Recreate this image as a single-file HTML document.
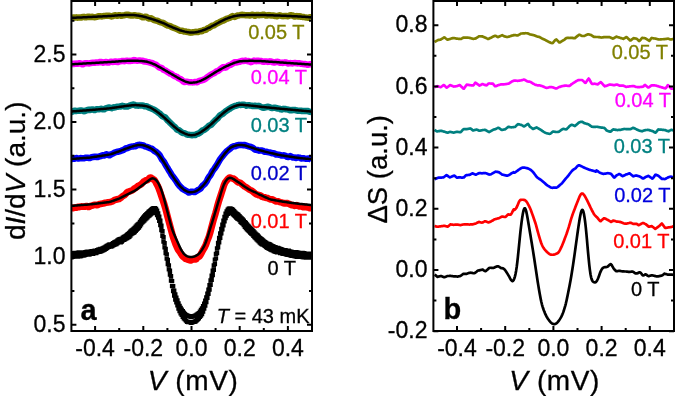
<!DOCTYPE html>
<html><head><meta charset="utf-8"><style>
html,body{margin:0;padding:0;background:#fff;}
body{width:675px;height:396px;overflow:hidden;font-family:"Liberation Sans",sans-serif;}
svg{display:block;will-change:transform;}
</style></head><body>
<svg width="675" height="396" viewBox="0 0 675 396">
<rect width="675" height="396" fill="#fff"/>
<defs><clipPath id="ca"><rect x="71.4" y="1.0" width="240.6" height="330.0"/></clipPath>
<clipPath id="cb"><rect x="433.4" y="1.0" width="240.6" height="330.0"/></clipPath></defs>
<g clip-path="url(#ca)">
<path d="M71.00,18.49 L72.07,17.83 L73.14,17.42 L74.21,17.50 L75.28,17.47 L76.35,17.37 L77.42,17.65 L78.49,17.62 L79.56,17.44 L80.63,17.62 L81.70,17.48 L82.77,16.93 L83.84,16.87 L84.91,17.25 L85.98,17.30 L87.05,16.97 L88.12,16.77 L89.19,16.78 L90.26,16.96 L91.33,16.95 L92.40,16.81 L93.47,17.11 L94.54,17.25 L95.61,17.11 L96.68,16.89 L97.75,16.53 L98.82,16.30 L99.89,16.19 L100.96,16.32 L102.03,16.41 L103.10,16.17 L104.17,15.99 L105.24,15.88 L106.31,15.77 L107.38,15.83 L108.45,15.83 L109.52,15.74 L110.59,16.08 L111.66,16.46 L112.73,16.19 L113.80,15.62 L114.87,15.24 L115.94,15.43 L117.01,15.81 L118.08,15.51 L119.15,15.14 L120.22,15.47 L121.29,15.80 L122.36,15.56 L123.43,15.36 L124.50,15.23 L125.57,14.88 L126.64,14.66 L127.71,14.76 L128.78,15.00 L129.85,15.27 L130.92,15.46 L131.99,15.45 L133.06,15.39 L134.13,15.29 L135.20,15.28 L136.27,15.63 L137.34,15.75 L138.41,15.71 L139.48,15.92 L140.55,16.24 L141.62,16.77 L142.69,17.37 L143.76,17.35 L144.83,16.72 L145.90,16.63 L146.97,17.28 L148.04,18.01 L149.11,18.54 L150.18,18.48 L151.25,18.32 L152.32,18.95 L153.39,19.74 L154.46,20.14 L155.53,20.44 L156.60,20.63 L157.67,20.96 L158.74,21.50 L159.81,21.99 L160.88,22.36 L161.95,22.61 L163.02,22.94 L164.09,23.50 L165.16,24.17 L166.23,24.92 L167.30,25.46 L168.37,25.64 L169.44,25.83 L170.51,26.32 L171.58,27.00 L172.65,27.44 L173.72,27.78 L174.79,28.17 L175.86,28.65 L176.93,29.18 L178.00,29.68 L179.07,30.26 L180.14,30.66 L181.21,30.70 L182.28,30.74 L183.35,31.23 L184.42,31.61 L185.49,31.56 L186.56,31.77 L187.63,31.95 L188.70,32.01 L189.77,32.48 L190.84,32.68 L191.91,32.44 L192.98,32.27 L194.05,32.09 L195.12,31.88 L196.19,31.82 L197.26,32.04 L198.33,31.92 L199.40,31.34 L200.47,31.06 L201.54,31.28 L202.61,30.87 L203.68,29.97 L204.75,29.95 L205.82,29.86 L206.89,28.88 L207.96,28.07 L209.03,27.78 L210.10,27.19 L211.17,26.30 L212.24,25.74 L213.31,25.60 L214.38,25.14 L215.45,24.37 L216.52,23.68 L217.59,23.07 L218.66,22.70 L219.73,22.15 L220.80,21.43 L221.87,20.99 L222.94,20.70 L224.01,20.24 L225.08,19.60 L226.15,19.00 L227.22,18.59 L228.29,18.27 L229.36,17.91 L230.43,17.49 L231.50,16.66 L232.57,16.11 L233.64,16.65 L234.71,16.94 L235.78,16.33 L236.85,15.76 L237.92,15.53 L238.99,15.41 L240.06,15.19 L241.13,14.90 L242.20,14.80 L243.27,14.89 L244.34,15.06 L245.41,15.16 L246.48,15.18 L247.55,15.23 L248.62,15.32 L249.69,15.51 L250.76,15.37 L251.83,14.67 L252.90,14.66 L253.97,15.47 L255.04,15.73 L256.11,15.22 L257.18,14.88 L258.25,15.05 L259.32,15.21 L260.39,15.13 L261.46,15.06 L262.53,14.82 L263.60,14.68 L264.67,15.04 L265.74,15.46 L266.81,15.55 L267.88,15.24 L268.95,15.11 L270.02,15.35 L271.09,15.47 L272.16,15.43 L273.23,15.54 L274.30,15.76 L275.37,15.96 L276.44,16.20 L277.51,16.17 L278.58,15.66 L279.65,15.32 L280.72,15.63 L281.79,15.99 L282.86,16.15 L283.93,16.12 L285.00,15.97 L286.07,15.97 L287.14,16.15 L288.21,16.25 L289.28,15.68 L290.35,15.17 L291.42,15.30 L292.49,15.54 L293.56,16.05 L294.63,16.60 L295.70,16.30 L296.77,16.09 L297.84,16.44 L298.91,16.28 L299.98,16.21 L301.05,16.74 L302.12,16.89 L303.19,16.90 L304.26,17.16 L305.33,17.35 L306.40,17.51 L307.47,17.64 L308.54,17.65 L309.61,17.30 L310.68,17.32 L311.75,18.22" stroke="#808000" stroke-width="6.5" fill="none" stroke-linejoin="round"/>
<path d="M71.00,17.90 L72.00,17.85 L73.00,17.81 L74.00,17.76 L75.00,17.71 L76.00,17.66 L77.00,17.62 L78.00,17.57 L79.00,17.52 L80.00,17.47 L81.00,17.43 L82.00,17.38 L83.00,17.33 L84.00,17.28 L85.00,17.24 L86.00,17.19 L87.00,17.14 L88.00,17.09 L89.00,17.05 L90.00,17.00 L91.00,16.95 L92.00,16.90 L93.00,16.85 L94.00,16.80 L95.00,16.75 L96.00,16.70 L97.00,16.65 L98.00,16.60 L99.00,16.55 L100.00,16.50 L101.00,16.45 L102.00,16.40 L103.00,16.35 L104.00,16.30 L105.00,16.25 L106.00,16.20 L107.00,16.15 L108.00,16.10 L109.00,16.05 L110.00,15.98 L111.00,15.92 L112.00,15.84 L113.00,15.76 L114.00,15.68 L115.00,15.60 L116.00,15.52 L117.00,15.44 L118.00,15.36 L119.00,15.29 L120.00,15.23 L121.00,15.19 L122.00,15.16 L123.00,15.14 L124.00,15.12 L125.00,15.10 L126.00,15.08 L127.00,15.06 L128.00,15.04 L129.00,15.03 L130.00,15.02 L131.00,15.03 L132.00,15.04 L133.00,15.06 L134.00,15.10 L135.00,15.17 L136.00,15.28 L137.00,15.42 L138.00,15.58 L139.00,15.75 L140.00,15.93 L141.00,16.13 L142.00,16.34 L143.00,16.56 L144.00,16.79 L145.00,17.04 L146.00,17.31 L147.00,17.60 L148.00,17.90 L149.00,18.20 L150.00,18.50 L151.00,18.80 L152.00,19.10 L153.00,19.40 L154.00,19.71 L155.00,20.04 L156.00,20.39 L157.00,20.76 L158.00,21.14 L159.00,21.52 L160.00,21.90 L161.00,22.28 L162.00,22.66 L163.00,23.04 L164.00,23.44 L165.00,23.86 L166.00,24.32 L167.00,24.80 L168.00,25.30 L169.00,25.79 L170.00,26.26 L171.00,26.71 L172.00,27.14 L173.00,27.56 L174.00,27.97 L175.00,28.38 L176.00,28.77 L177.00,29.16 L178.00,29.54 L179.00,29.90 L180.00,30.25 L181.00,30.56 L182.00,30.86 L183.00,31.14 L184.00,31.40 L185.00,31.65 L186.00,31.86 L187.00,32.06 L188.00,32.23 L189.00,32.38 L190.00,32.49 L191.00,32.52 L192.00,32.51 L193.00,32.47 L194.00,32.41 L195.00,32.31 L196.00,32.15 L197.00,31.95 L198.00,31.74 L199.00,31.50 L200.00,31.24 L201.00,30.94 L202.00,30.62 L203.00,30.28 L204.00,29.92 L205.00,29.54 L206.00,29.12 L207.00,28.68 L208.00,28.22 L209.00,27.75 L210.00,27.26 L211.00,26.75 L212.00,26.22 L213.00,25.68 L214.00,25.14 L215.00,24.60 L216.00,24.06 L217.00,23.52 L218.00,22.98 L219.00,22.44 L220.00,21.91 L221.00,21.38 L222.00,20.86 L223.00,20.34 L224.00,19.84 L225.00,19.37 L226.00,18.94 L227.00,18.54 L228.00,18.16 L229.00,17.80 L230.00,17.45 L231.00,17.14 L232.00,16.84 L233.00,16.56 L234.00,16.30 L235.00,16.07 L236.00,15.88 L237.00,15.72 L238.00,15.58 L239.00,15.46 L240.00,15.36 L241.00,15.29 L242.00,15.24 L243.00,15.21 L244.00,15.18 L245.00,15.15 L246.00,15.12 L247.00,15.09 L248.00,15.06 L249.00,15.03 L250.00,15.01 L251.00,14.99 L252.00,14.98 L253.00,14.97 L254.00,14.96 L255.00,14.95 L256.00,14.94 L257.00,14.93 L258.00,14.92 L259.00,14.92 L260.00,14.92 L261.00,14.94 L262.00,14.97 L263.00,15.01 L264.00,15.04 L265.00,15.08 L266.00,15.11 L267.00,15.15 L268.00,15.18 L269.00,15.22 L270.00,15.25 L271.00,15.29 L272.00,15.32 L273.00,15.36 L274.00,15.39 L275.00,15.43 L276.00,15.46 L277.00,15.50 L278.00,15.53 L279.00,15.57 L280.00,15.61 L281.00,15.65 L282.00,15.69 L283.00,15.74 L284.00,15.78 L285.00,15.83 L286.00,15.87 L287.00,15.92 L288.00,15.96 L289.00,16.00 L290.00,16.05 L291.00,16.10 L292.00,16.14 L293.00,16.18 L294.00,16.23 L295.00,16.28 L296.00,16.32 L297.00,16.37 L298.00,16.41 L299.00,16.46 L300.00,16.52 L301.00,16.58 L302.00,16.65 L303.00,16.73 L304.00,16.80 L305.00,16.87 L306.00,16.95 L307.00,17.02 L308.00,17.10 L309.00,17.18 L310.00,17.25 L311.00,17.32 L312.00,17.40" stroke="#000" stroke-width="2.5" fill="none" stroke-linejoin="round"/>
<path d="M71.00,64.12 L72.07,63.87 L73.14,63.81 L74.21,64.02 L75.28,63.67 L76.35,63.58 L77.42,63.78 L78.49,63.45 L79.56,63.22 L80.63,63.42 L81.70,64.02 L82.77,64.33 L83.84,63.73 L84.91,63.27 L85.98,63.35 L87.05,63.28 L88.12,63.38 L89.19,63.46 L90.26,63.14 L91.33,62.90 L92.40,62.79 L93.47,62.86 L94.54,62.84 L95.61,62.58 L96.68,62.54 L97.75,62.54 L98.82,62.30 L99.89,62.00 L100.96,61.97 L102.03,62.20 L103.10,62.63 L104.17,62.59 L105.24,61.94 L106.31,61.97 L107.38,62.46 L108.45,62.59 L109.52,62.23 L110.59,61.79 L111.66,61.84 L112.73,61.91 L113.80,61.82 L114.87,61.55 L115.94,61.39 L117.01,61.91 L118.08,62.00 L119.15,61.52 L120.22,61.38 L121.29,61.16 L122.36,60.88 L123.43,61.07 L124.50,61.18 L125.57,60.88 L126.64,60.69 L127.71,60.81 L128.78,61.07 L129.85,61.08 L130.92,60.79 L131.99,60.77 L133.06,60.54 L134.13,60.11 L135.20,60.27 L136.27,60.60 L137.34,60.78 L138.41,60.64 L139.48,60.40 L140.55,60.63 L141.62,60.69 L142.69,60.72 L143.76,61.28 L144.83,61.56 L145.90,61.61 L146.97,61.91 L148.04,62.12 L149.11,62.21 L150.18,62.66 L151.25,63.03 L152.32,63.01 L153.39,63.67 L154.46,64.33 L155.53,64.45 L156.60,65.16 L157.67,66.16 L158.74,67.08 L159.81,67.69 L160.88,67.76 L161.95,68.24 L163.02,69.45 L164.09,70.16 L165.16,70.40 L166.23,71.03 L167.30,71.81 L168.37,72.46 L169.44,73.19 L170.51,73.67 L171.58,73.97 L172.65,74.84 L173.72,75.58 L174.79,76.13 L175.86,76.57 L176.93,76.90 L178.00,77.89 L179.07,78.56 L180.14,78.84 L181.21,79.52 L182.28,80.47 L183.35,81.58 L184.42,82.06 L185.49,81.83 L186.56,81.67 L187.63,81.87 L188.70,82.18 L189.77,82.29 L190.84,82.28 L191.91,82.35 L192.98,82.39 L194.05,82.24 L195.12,81.97 L196.19,82.14 L197.26,82.23 L198.33,81.36 L199.40,80.79 L200.47,80.75 L201.54,80.38 L202.61,80.03 L203.68,79.77 L204.75,79.33 L205.82,78.43 L206.89,77.54 L207.96,76.85 L209.03,75.92 L210.10,75.26 L211.17,74.62 L212.24,73.94 L213.31,73.51 L214.38,73.01 L215.45,72.23 L216.52,71.41 L217.59,71.05 L218.66,70.62 L219.73,69.67 L220.80,68.76 L221.87,68.11 L222.94,67.27 L224.01,67.11 L225.08,67.65 L226.15,67.35 L227.22,66.45 L228.29,65.61 L229.36,65.14 L230.43,64.82 L231.50,64.27 L232.57,63.63 L233.64,62.81 L234.71,62.25 L235.78,62.35 L236.85,62.44 L237.92,62.12 L238.99,61.84 L240.06,61.69 L241.13,61.13 L242.20,60.84 L243.27,61.09 L244.34,60.85 L245.41,60.59 L246.48,60.91 L247.55,61.16 L248.62,61.10 L249.69,61.57 L250.76,62.14 L251.83,61.84 L252.90,61.12 L253.97,60.59 L255.04,60.83 L256.11,61.14 L257.18,60.83 L258.25,60.73 L259.32,60.94 L260.39,60.93 L261.46,61.06 L262.53,61.60 L263.60,61.82 L264.67,61.53 L265.74,61.39 L266.81,61.67 L267.88,61.94 L268.95,61.71 L270.02,61.34 L271.09,61.53 L272.16,61.99 L273.23,62.28 L274.30,62.46 L275.37,62.26 L276.44,61.85 L277.51,61.71 L278.58,62.12 L279.65,62.73 L280.72,62.82 L281.79,62.84 L282.86,62.92 L283.93,62.57 L285.00,62.33 L286.07,62.53 L287.14,63.01 L288.21,63.49 L289.28,63.35 L290.35,63.04 L291.42,63.33 L292.49,63.42 L293.56,63.14 L294.63,62.99 L295.70,63.02 L296.77,63.37 L297.84,63.42 L298.91,63.21 L299.98,63.45 L301.05,63.76 L302.12,63.86 L303.19,64.09 L304.26,64.16 L305.33,63.96 L306.40,64.32 L307.47,64.86 L308.54,64.58 L309.61,64.23 L310.68,64.23 L311.75,64.04" stroke="#ff00ff" stroke-width="6.5" fill="none" stroke-linejoin="round"/>
<path d="M71.00,64.30 L72.00,64.24 L73.00,64.18 L74.00,64.13 L75.00,64.07 L76.00,64.01 L77.00,63.95 L78.00,63.89 L79.00,63.84 L80.00,63.78 L81.00,63.72 L82.00,63.66 L83.00,63.61 L84.00,63.55 L85.00,63.49 L86.00,63.43 L87.00,63.37 L88.00,63.32 L89.00,63.26 L90.00,63.20 L91.00,63.14 L92.00,63.08 L93.00,63.02 L94.00,62.96 L95.00,62.90 L96.00,62.84 L97.00,62.78 L98.00,62.72 L99.00,62.66 L100.00,62.60 L101.00,62.54 L102.00,62.48 L103.00,62.42 L104.00,62.36 L105.00,62.30 L106.00,62.24 L107.00,62.18 L108.00,62.12 L109.00,62.06 L110.00,61.99 L111.00,61.92 L112.00,61.85 L113.00,61.78 L114.00,61.71 L115.00,61.63 L116.00,61.56 L117.00,61.49 L118.00,61.41 L119.00,61.34 L120.00,61.27 L121.00,61.19 L122.00,61.12 L123.00,61.05 L124.00,60.98 L125.00,60.92 L126.00,60.88 L127.00,60.84 L128.00,60.81 L129.00,60.78 L130.00,60.75 L131.00,60.72 L132.00,60.69 L133.00,60.66 L134.00,60.65 L135.00,60.65 L136.00,60.69 L137.00,60.74 L138.00,60.81 L139.00,60.88 L140.00,60.95 L141.00,61.02 L142.00,61.09 L143.00,61.17 L144.00,61.26 L145.00,61.40 L146.00,61.59 L147.00,61.83 L148.00,62.08 L149.00,62.36 L150.00,62.67 L151.00,63.02 L152.00,63.40 L153.00,63.81 L154.00,64.23 L155.00,64.68 L156.00,65.19 L157.00,65.73 L158.00,66.28 L159.00,66.84 L160.00,67.40 L161.00,67.96 L162.00,68.52 L163.00,69.08 L164.00,69.65 L165.00,70.22 L166.00,70.81 L167.00,71.40 L168.00,72.00 L169.00,72.60 L170.00,73.19 L171.00,73.78 L172.00,74.36 L173.00,74.94 L174.00,75.52 L175.00,76.10 L176.00,76.68 L177.00,77.26 L178.00,77.84 L179.00,78.41 L180.00,78.96 L181.00,79.49 L182.00,80.00 L183.00,80.49 L184.00,80.96 L185.00,81.38 L186.00,81.72 L187.00,82.01 L188.00,82.27 L189.00,82.49 L190.00,82.64 L191.00,82.69 L192.00,82.67 L193.00,82.61 L194.00,82.52 L195.00,82.39 L196.00,82.18 L197.00,81.93 L198.00,81.65 L199.00,81.35 L200.00,81.00 L201.00,80.59 L202.00,80.13 L203.00,79.66 L204.00,79.16 L205.00,78.64 L206.00,78.08 L207.00,77.50 L208.00,76.90 L209.00,76.29 L210.00,75.67 L211.00,75.03 L212.00,74.38 L213.00,73.72 L214.00,73.08 L215.00,72.45 L216.00,71.86 L217.00,71.28 L218.00,70.72 L219.00,70.16 L220.00,69.61 L221.00,69.06 L222.00,68.52 L223.00,67.98 L224.00,67.45 L225.00,66.94 L226.00,66.45 L227.00,65.98 L228.00,65.52 L229.00,65.07 L230.00,64.63 L231.00,64.21 L232.00,63.80 L233.00,63.40 L234.00,63.02 L235.00,62.66 L236.00,62.34 L237.00,62.04 L238.00,61.77 L239.00,61.52 L240.00,61.32 L241.00,61.20 L242.00,61.13 L243.00,61.08 L244.00,61.04 L245.00,61.00 L246.00,60.96 L247.00,60.92 L248.00,60.88 L249.00,60.85 L250.00,60.83 L251.00,60.83 L252.00,60.84 L253.00,60.86 L254.00,60.88 L255.00,60.90 L256.00,60.92 L257.00,60.94 L258.00,60.96 L259.00,60.99 L260.00,61.03 L261.00,61.08 L262.00,61.14 L263.00,61.21 L264.00,61.28 L265.00,61.35 L266.00,61.42 L267.00,61.49 L268.00,61.56 L269.00,61.63 L270.00,61.70 L271.00,61.77 L272.00,61.84 L273.00,61.91 L274.00,61.98 L275.00,62.05 L276.00,62.12 L277.00,62.19 L278.00,62.26 L279.00,62.33 L280.00,62.40 L281.00,62.47 L282.00,62.54 L283.00,62.61 L284.00,62.68 L285.00,62.75 L286.00,62.82 L287.00,62.89 L288.00,62.96 L289.00,63.03 L290.00,63.10 L291.00,63.17 L292.00,63.24 L293.00,63.31 L294.00,63.38 L295.00,63.45 L296.00,63.52 L297.00,63.59 L298.00,63.66 L299.00,63.73 L300.00,63.80 L301.00,63.87 L302.00,63.93 L303.00,64.00 L304.00,64.07 L305.00,64.13 L306.00,64.20 L307.00,64.27 L308.00,64.33 L309.00,64.40 L310.00,64.47 L311.00,64.53 L312.00,64.60" stroke="#000" stroke-width="2.5" fill="none" stroke-linejoin="round"/>
<path d="M71.00,112.30 L72.07,111.80 L73.14,111.17 L74.21,110.73 L75.28,110.80 L76.35,110.96 L77.42,110.87 L78.49,110.76 L79.56,110.71 L80.63,110.47 L81.70,110.41 L82.77,110.82 L83.84,111.15 L84.91,111.07 L85.98,110.59 L87.05,110.14 L88.12,109.82 L89.19,109.79 L90.26,109.98 L91.33,109.65 L92.40,109.38 L93.47,109.77 L94.54,110.10 L95.61,109.72 L96.68,109.15 L97.75,109.15 L98.82,109.36 L99.89,109.15 L100.96,108.85 L102.03,108.95 L103.10,109.37 L104.17,109.30 L105.24,108.57 L106.31,108.18 L107.38,107.90 L108.45,107.53 L109.52,107.60 L110.59,107.94 L111.66,108.20 L112.73,107.79 L113.80,107.37 L114.87,107.49 L115.94,107.18 L117.01,106.66 L118.08,106.63 L119.15,106.59 L120.22,106.48 L121.29,106.22 L122.36,105.84 L123.43,106.09 L124.50,106.54 L125.57,106.57 L126.64,106.48 L127.71,106.44 L128.78,106.06 L129.85,105.54 L130.92,105.23 L131.99,104.82 L133.06,104.52 L134.13,104.66 L135.20,105.30 L136.27,105.60 L137.34,105.56 L138.41,105.64 L139.48,105.44 L140.55,105.41 L141.62,105.45 L142.69,105.41 L143.76,105.97 L144.83,106.33 L145.90,106.22 L146.97,106.48 L148.04,107.05 L149.11,107.62 L150.18,108.01 L151.25,108.42 L152.32,109.00 L153.39,109.31 L154.46,109.85 L155.53,110.70 L156.60,111.27 L157.67,112.13 L158.74,113.03 L159.81,113.63 L160.88,114.72 L161.95,115.90 L163.02,116.55 L164.09,116.83 L165.16,117.39 L166.23,118.66 L167.30,120.00 L168.37,120.98 L169.44,122.02 L170.51,123.17 L171.58,124.13 L172.65,125.22 L173.72,126.26 L174.79,126.96 L175.86,128.12 L176.93,129.53 L178.00,130.03 L179.07,130.20 L180.14,131.03 L181.21,132.09 L182.28,132.77 L183.35,133.00 L184.42,133.13 L185.49,133.62 L186.56,134.31 L187.63,134.64 L188.70,134.72 L189.77,134.88 L190.84,135.11 L191.91,135.18 L192.98,135.03 L194.05,135.07 L195.12,135.05 L196.19,134.47 L197.26,133.92 L198.33,133.58 L199.40,132.96 L200.47,132.23 L201.54,131.25 L202.61,130.37 L203.68,130.05 L204.75,129.52 L205.82,128.68 L206.89,127.76 L207.96,126.69 L209.03,125.74 L210.10,125.27 L211.17,124.82 L212.24,123.65 L213.31,122.30 L214.38,121.28 L215.45,120.15 L216.52,119.20 L217.59,118.37 L218.66,117.01 L219.73,115.62 L220.80,114.84 L221.87,114.27 L222.94,113.64 L224.01,112.76 L225.08,111.72 L226.15,111.01 L227.22,110.29 L228.29,109.51 L229.36,108.97 L230.43,108.22 L231.50,107.54 L232.57,107.08 L233.64,106.43 L234.71,106.04 L235.78,105.88 L236.85,105.51 L237.92,105.05 L238.99,104.81 L240.06,104.88 L241.13,104.90 L242.20,104.73 L243.27,104.77 L244.34,104.75 L245.41,105.06 L246.48,105.73 L247.55,105.42 L248.62,105.15 L249.69,105.52 L250.76,105.55 L251.83,105.79 L252.90,106.05 L253.97,105.86 L255.04,105.82 L256.11,106.01 L257.18,106.03 L258.25,105.86 L259.32,106.03 L260.39,106.67 L261.46,107.20 L262.53,107.51 L263.60,107.72 L264.67,107.53 L265.74,107.21 L266.81,107.00 L267.88,106.78 L268.95,106.91 L270.02,107.33 L271.09,107.83 L272.16,108.05 L273.23,107.88 L274.30,107.68 L275.37,107.71 L276.44,108.13 L277.51,108.56 L278.58,108.61 L279.65,108.78 L280.72,109.37 L281.79,109.45 L282.86,109.02 L283.93,108.85 L285.00,109.01 L286.07,109.24 L287.14,109.42 L288.21,109.68 L289.28,110.00 L290.35,110.27 L291.42,110.22 L292.49,110.00 L293.56,109.96 L294.63,109.88 L295.70,110.16 L296.77,110.59 L297.84,110.72 L298.91,110.84 L299.98,110.71 L301.05,110.77 L302.12,111.03 L303.19,111.00 L304.26,110.97 L305.33,110.91 L306.40,110.90 L307.47,110.98 L308.54,111.31 L309.61,111.72 L310.68,111.89 L311.75,112.26" stroke="#008080" stroke-width="6.5" fill="none" stroke-linejoin="round"/>
<path d="M71.00,111.50 L72.00,111.43 L73.00,111.35 L74.00,111.28 L75.00,111.21 L76.00,111.13 L77.00,111.06 L78.00,110.98 L79.00,110.91 L80.00,110.84 L81.00,110.76 L82.00,110.69 L83.00,110.62 L84.00,110.54 L85.00,110.47 L86.00,110.39 L87.00,110.32 L88.00,110.25 L89.00,110.17 L90.00,110.09 L91.00,110.01 L92.00,109.92 L93.00,109.83 L94.00,109.74 L95.00,109.65 L96.00,109.56 L97.00,109.47 L98.00,109.38 L99.00,109.29 L100.00,109.20 L101.00,109.11 L102.00,109.02 L103.00,108.93 L104.00,108.84 L105.00,108.75 L106.00,108.66 L107.00,108.57 L108.00,108.48 L109.00,108.38 L110.00,108.27 L111.00,108.14 L112.00,108.00 L113.00,107.86 L114.00,107.71 L115.00,107.57 L116.00,107.42 L117.00,107.27 L118.00,107.13 L119.00,106.98 L120.00,106.83 L121.00,106.69 L122.00,106.54 L123.00,106.39 L124.00,106.25 L125.00,106.11 L126.00,105.98 L127.00,105.86 L128.00,105.74 L129.00,105.62 L130.00,105.51 L131.00,105.40 L132.00,105.30 L133.00,105.21 L134.00,105.13 L135.00,105.09 L136.00,105.11 L137.00,105.17 L138.00,105.24 L139.00,105.32 L140.00,105.40 L141.00,105.48 L142.00,105.56 L143.00,105.65 L144.00,105.76 L145.00,105.91 L146.00,106.14 L147.00,106.41 L148.00,106.71 L149.00,107.05 L150.00,107.45 L151.00,107.95 L152.00,108.51 L153.00,109.10 L154.00,109.72 L155.00,110.35 L156.00,111.02 L157.00,111.70 L158.00,112.41 L159.00,113.13 L160.00,113.90 L161.00,114.73 L162.00,115.61 L163.00,116.50 L164.00,117.40 L165.00,118.30 L166.00,119.20 L167.00,120.10 L168.00,121.00 L169.00,121.90 L170.00,122.81 L171.00,123.72 L172.00,124.64 L173.00,125.56 L174.00,126.45 L175.00,127.32 L176.00,128.13 L177.00,128.91 L178.00,129.67 L179.00,130.40 L180.00,131.07 L181.00,131.66 L182.00,132.19 L183.00,132.69 L184.00,133.17 L185.00,133.61 L186.00,133.99 L187.00,134.33 L188.00,134.65 L189.00,134.92 L190.00,135.10 L191.00,135.16 L192.00,135.13 L193.00,135.05 L194.00,134.92 L195.00,134.72 L196.00,134.40 L197.00,134.01 L198.00,133.57 L199.00,133.10 L200.00,132.58 L201.00,131.98 L202.00,131.33 L203.00,130.66 L204.00,129.96 L205.00,129.24 L206.00,128.48 L207.00,127.70 L208.00,126.90 L209.00,126.08 L210.00,125.24 L211.00,124.36 L212.00,123.46 L213.00,122.54 L214.00,121.62 L215.00,120.69 L216.00,119.76 L217.00,118.82 L218.00,117.88 L219.00,116.95 L220.00,116.03 L221.00,115.13 L222.00,114.24 L223.00,113.37 L224.00,112.51 L225.00,111.70 L226.00,110.95 L227.00,110.25 L228.00,109.57 L229.00,108.92 L230.00,108.32 L231.00,107.80 L232.00,107.33 L233.00,106.89 L234.00,106.47 L235.00,106.08 L236.00,105.75 L237.00,105.45 L238.00,105.17 L239.00,104.94 L240.00,104.79 L241.00,104.75 L242.00,104.79 L243.00,104.87 L244.00,104.96 L245.00,105.05 L246.00,105.14 L247.00,105.23 L248.00,105.32 L249.00,105.41 L250.00,105.52 L251.00,105.62 L252.00,105.74 L253.00,105.86 L254.00,105.98 L255.00,106.10 L256.00,106.22 L257.00,106.34 L258.00,106.46 L259.00,106.58 L260.00,106.69 L261.00,106.80 L262.00,106.90 L263.00,107.00 L264.00,107.10 L265.00,107.20 L266.00,107.30 L267.00,107.40 L268.00,107.50 L269.00,107.60 L270.00,107.70 L271.00,107.80 L272.00,107.90 L273.00,108.00 L274.00,108.10 L275.00,108.20 L276.00,108.30 L277.00,108.40 L278.00,108.50 L279.00,108.60 L280.00,108.69 L281.00,108.79 L282.00,108.88 L283.00,108.97 L284.00,109.06 L285.00,109.15 L286.00,109.24 L287.00,109.33 L288.00,109.42 L289.00,109.51 L290.00,109.60 L291.00,109.69 L292.00,109.78 L293.00,109.87 L294.00,109.96 L295.00,110.05 L296.00,110.14 L297.00,110.23 L298.00,110.32 L299.00,110.41 L300.00,110.50 L301.00,110.59 L302.00,110.68 L303.00,110.78 L304.00,110.87 L305.00,110.96 L306.00,111.05 L307.00,111.14 L308.00,111.23 L309.00,111.33 L310.00,111.42 L311.00,111.51 L312.00,111.60" stroke="#000" stroke-width="2.5" fill="none" stroke-linejoin="round"/>
<path d="M71.00,159.09 L72.07,158.93 L73.14,158.73 L74.21,158.76 L75.28,158.45 L76.35,158.02 L77.42,158.21 L78.49,158.57 L79.56,158.39 L80.63,158.11 L81.70,158.21 L82.77,158.25 L83.84,158.20 L84.91,157.97 L85.98,157.67 L87.05,157.67 L88.12,157.83 L89.19,158.08 L90.26,157.95 L91.33,157.36 L92.40,156.97 L93.47,156.96 L94.54,156.78 L95.61,156.73 L96.68,157.06 L97.75,157.05 L98.82,156.60 L99.89,156.22 L100.96,156.01 L102.03,155.50 L103.10,155.28 L104.17,155.47 L105.24,155.00 L106.31,154.28 L107.38,154.39 L108.45,155.09 L109.52,155.33 L110.59,154.74 L111.66,154.07 L112.73,153.57 L113.80,153.04 L114.87,152.59 L115.94,152.12 L117.01,151.84 L118.08,151.74 L119.15,151.45 L120.22,151.08 L121.29,150.74 L122.36,150.28 L123.43,149.94 L124.50,149.30 L125.57,148.43 L126.64,148.21 L127.71,147.99 L128.78,147.53 L129.85,147.08 L130.92,146.67 L131.99,146.61 L133.06,146.46 L134.13,146.35 L135.20,146.34 L136.27,145.79 L137.34,145.14 L138.41,144.89 L139.48,144.81 L140.55,144.92 L141.62,145.21 L142.69,145.26 L143.76,145.66 L144.83,146.42 L145.90,146.67 L146.97,146.89 L148.04,147.35 L149.11,147.73 L150.18,148.20 L151.25,148.59 L152.32,149.06 L153.39,150.05 L154.46,150.96 L155.53,151.47 L156.60,152.20 L157.67,153.12 L158.74,154.10 L159.81,155.55 L160.88,157.52 L161.95,159.51 L163.02,160.71 L164.09,162.06 L165.16,164.13 L166.23,165.94 L167.30,167.63 L168.37,169.47 L169.44,171.16 L170.51,172.89 L171.58,174.78 L172.65,176.33 L173.72,177.64 L174.79,179.05 L175.86,180.55 L176.93,182.29 L178.00,183.98 L179.07,185.36 L180.14,186.46 L181.21,187.55 L182.28,188.64 L183.35,189.32 L184.42,189.90 L185.49,190.56 L186.56,191.10 L187.63,191.81 L188.70,192.54 L189.77,192.37 L190.84,191.81 L191.91,191.67 L192.98,191.74 L194.05,192.09 L195.12,191.95 L196.19,191.18 L197.26,190.51 L198.33,189.86 L199.40,189.36 L200.47,188.64 L201.54,187.11 L202.61,185.73 L203.68,184.95 L204.75,183.92 L205.82,182.56 L206.89,180.89 L207.96,178.68 L209.03,176.86 L210.10,175.62 L211.17,173.78 L212.24,171.59 L213.31,170.02 L214.38,168.76 L215.45,167.13 L216.52,165.46 L217.59,163.80 L218.66,161.80 L219.73,159.94 L220.80,158.40 L221.87,157.00 L222.94,155.66 L224.01,154.31 L225.08,153.07 L226.15,151.86 L227.22,150.81 L228.29,150.04 L229.36,149.34 L230.43,148.46 L231.50,147.46 L232.57,146.68 L233.64,146.25 L234.71,146.25 L235.78,146.01 L236.85,145.47 L237.92,145.22 L238.99,145.00 L240.06,144.88 L241.13,144.95 L242.20,145.11 L243.27,145.19 L244.34,144.99 L245.41,145.20 L246.48,145.65 L247.55,146.01 L248.62,146.38 L249.69,146.63 L250.76,146.95 L251.83,147.28 L252.90,147.86 L253.97,148.79 L255.04,149.54 L256.11,149.88 L257.18,150.00 L258.25,150.27 L259.32,150.63 L260.39,150.57 L261.46,150.40 L262.53,150.60 L263.60,151.27 L264.67,151.75 L265.74,151.71 L266.81,151.82 L267.88,152.12 L268.95,152.38 L270.02,152.49 L271.09,152.87 L272.16,153.30 L273.23,153.13 L274.30,153.37 L275.37,154.19 L276.44,154.61 L277.51,154.59 L278.58,154.68 L279.65,154.94 L280.72,155.26 L281.79,155.52 L282.86,155.41 L283.93,155.33 L285.00,155.65 L286.07,156.20 L287.14,156.81 L288.21,156.97 L289.28,156.49 L290.35,156.09 L291.42,156.61 L292.49,157.39 L293.56,157.44 L294.63,157.68 L295.70,157.99 L296.77,157.70 L297.84,157.57 L298.91,157.60 L299.98,157.80 L301.05,158.40 L302.12,158.44 L303.19,158.16 L304.26,158.47 L305.33,158.68 L306.40,158.73 L307.47,158.68 L308.54,158.51 L309.61,158.58 L310.68,159.03 L311.75,159.83" stroke="#0000ff" stroke-width="6.5" fill="none" stroke-linejoin="round"/>
<path d="M71.00,159.00 L72.00,158.93 L73.00,158.85 L74.00,158.78 L75.00,158.71 L76.00,158.63 L77.00,158.56 L78.00,158.48 L79.00,158.41 L80.00,158.34 L81.00,158.26 L82.00,158.19 L83.00,158.12 L84.00,158.04 L85.00,157.97 L86.00,157.89 L87.00,157.82 L88.00,157.74 L89.00,157.66 L90.00,157.56 L91.00,157.43 L92.00,157.29 L93.00,157.13 L94.00,156.98 L95.00,156.83 L96.00,156.67 L97.00,156.51 L98.00,156.36 L99.00,156.21 L100.00,156.05 L101.00,155.90 L102.00,155.74 L103.00,155.59 L104.00,155.43 L105.00,155.28 L106.00,155.12 L107.00,154.96 L108.00,154.80 L109.00,154.62 L110.00,154.40 L111.00,154.12 L112.00,153.79 L113.00,153.45 L114.00,153.10 L115.00,152.75 L116.00,152.40 L117.00,152.05 L118.00,151.70 L119.00,151.34 L120.00,150.97 L121.00,150.59 L122.00,150.20 L123.00,149.80 L124.00,149.41 L125.00,149.03 L126.00,148.67 L127.00,148.32 L128.00,147.98 L129.00,147.64 L130.00,147.29 L131.00,146.94 L132.00,146.58 L133.00,146.23 L134.00,145.90 L135.00,145.61 L136.00,145.40 L137.00,145.23 L138.00,145.09 L139.00,144.99 L140.00,144.95 L141.00,145.01 L142.00,145.13 L143.00,145.29 L144.00,145.48 L145.00,145.74 L146.00,146.08 L147.00,146.49 L148.00,146.93 L149.00,147.39 L150.00,147.89 L151.00,148.45 L152.00,149.05 L153.00,149.67 L154.00,150.35 L155.00,151.13 L156.00,152.03 L157.00,153.04 L158.00,154.10 L159.00,155.21 L160.00,156.44 L161.00,157.79 L162.00,159.25 L163.00,160.77 L164.00,162.30 L165.00,163.87 L166.00,165.48 L167.00,167.12 L168.00,168.78 L169.00,170.42 L170.00,172.03 L171.00,173.60 L172.00,175.14 L173.00,176.65 L174.00,178.15 L175.00,179.60 L176.00,180.99 L177.00,182.33 L178.00,183.65 L179.00,184.91 L180.00,186.06 L181.00,187.09 L182.00,188.00 L183.00,188.86 L184.00,189.66 L185.00,190.35 L186.00,190.90 L187.00,191.34 L188.00,191.72 L189.00,192.04 L190.00,192.23 L191.00,192.28 L192.00,192.20 L193.00,192.06 L194.00,191.87 L195.00,191.56 L196.00,191.13 L197.00,190.58 L198.00,189.98 L199.00,189.33 L200.00,188.56 L201.00,187.67 L202.00,186.66 L203.00,185.60 L204.00,184.49 L205.00,183.26 L206.00,181.91 L207.00,180.45 L208.00,178.93 L209.00,177.39 L210.00,175.82 L211.00,174.19 L212.00,172.54 L213.00,170.87 L214.00,169.21 L215.00,167.59 L216.00,166.03 L217.00,164.51 L218.00,163.00 L219.00,161.52 L220.00,160.07 L221.00,158.66 L222.00,157.29 L223.00,155.93 L224.00,154.60 L225.00,153.34 L226.00,152.16 L227.00,151.05 L228.00,149.98 L229.00,148.98 L230.00,148.13 L231.00,147.46 L232.00,146.94 L233.00,146.49 L234.00,146.08 L235.00,145.74 L236.00,145.48 L237.00,145.29 L238.00,145.13 L239.00,145.00 L240.00,144.94 L241.00,144.96 L242.00,145.05 L243.00,145.17 L244.00,145.32 L245.00,145.51 L246.00,145.78 L247.00,146.09 L248.00,146.42 L249.00,146.76 L250.00,147.09 L251.00,147.42 L252.00,147.74 L253.00,148.06 L254.00,148.38 L255.00,148.70 L256.00,149.02 L257.00,149.34 L258.00,149.66 L259.00,149.97 L260.00,150.27 L261.00,150.55 L262.00,150.82 L263.00,151.08 L264.00,151.34 L265.00,151.60 L266.00,151.86 L267.00,152.12 L268.00,152.38 L269.00,152.63 L270.00,152.88 L271.00,153.11 L272.00,153.34 L273.00,153.56 L274.00,153.78 L275.00,154.00 L276.00,154.22 L277.00,154.44 L278.00,154.66 L279.00,154.87 L280.00,155.07 L281.00,155.25 L282.00,155.42 L283.00,155.58 L284.00,155.74 L285.00,155.90 L286.00,156.06 L287.00,156.22 L288.00,156.38 L289.00,156.54 L290.00,156.69 L291.00,156.84 L292.00,156.98 L293.00,157.12 L294.00,157.26 L295.00,157.40 L296.00,157.54 L297.00,157.68 L298.00,157.82 L299.00,157.95 L300.00,158.08 L301.00,158.18 L302.00,158.28 L303.00,158.37 L304.00,158.47 L305.00,158.56 L306.00,158.65 L307.00,158.74 L308.00,158.83 L309.00,158.92 L310.00,159.02 L311.00,159.11 L312.00,159.20" stroke="#000" stroke-width="2.5" fill="none" stroke-linejoin="round"/>
<path d="M71.00,207.84 L72.07,207.93 L73.14,208.13 L74.21,207.74 L75.28,207.60 L76.35,207.63 L77.42,207.11 L78.49,206.89 L79.56,206.99 L80.63,206.76 L81.70,206.51 L82.77,206.56 L83.84,206.71 L84.91,206.56 L85.98,206.13 L87.05,206.25 L88.12,206.91 L89.19,206.79 L90.26,206.11 L91.33,205.83 L92.40,205.47 L93.47,205.05 L94.54,204.89 L95.61,204.97 L96.68,205.14 L97.75,204.94 L98.82,204.42 L99.89,204.03 L100.96,203.83 L102.03,203.73 L103.10,203.53 L104.17,203.12 L105.24,202.84 L106.31,202.68 L107.38,202.48 L108.45,202.32 L109.52,202.23 L110.59,202.01 L111.66,201.63 L112.73,201.24 L113.80,200.52 L114.87,199.89 L115.94,199.65 L117.01,199.38 L118.08,199.12 L119.15,198.90 L120.22,198.35 L121.29,197.37 L122.36,196.33 L123.43,195.72 L124.50,195.22 L125.57,194.11 L126.64,192.83 L127.71,192.03 L128.78,191.62 L129.85,191.23 L130.92,190.82 L131.99,190.51 L133.06,189.77 L134.13,188.76 L135.20,188.11 L136.27,187.56 L137.34,186.61 L138.41,185.73 L139.48,185.21 L140.55,184.66 L141.62,183.98 L142.69,182.66 L143.76,181.47 L144.83,180.93 L145.90,180.34 L146.97,180.11 L148.04,179.60 L149.11,178.39 L150.18,177.65 L151.25,177.90 L152.32,178.73 L153.39,179.37 L154.46,180.11 L155.53,181.76 L156.60,183.89 L157.67,185.88 L158.74,188.26 L159.81,191.23 L160.88,194.46 L161.95,197.60 L163.02,200.60 L164.09,203.91 L165.16,207.44 L166.23,211.40 L167.30,215.61 L168.37,219.54 L169.44,223.51 L170.51,227.56 L171.58,231.66 L172.65,235.60 L173.72,238.83 L174.79,241.79 L175.86,244.71 L176.93,247.28 L178.00,249.41 L179.07,250.91 L180.14,252.34 L181.21,254.25 L182.28,255.90 L183.35,256.84 L184.42,257.81 L185.49,258.78 L186.56,259.13 L187.63,259.52 L188.70,259.89 L189.77,260.12 L190.84,260.39 L191.91,259.91 L192.98,259.10 L194.05,259.02 L195.12,259.45 L196.19,259.06 L197.26,257.71 L198.33,256.89 L199.40,256.35 L200.47,254.97 L201.54,252.98 L202.61,250.84 L203.68,248.90 L204.75,247.13 L205.82,244.80 L206.89,241.84 L207.96,239.12 L209.03,236.37 L210.10,232.78 L211.17,228.73 L212.24,224.62 L213.31,220.60 L214.38,216.99 L215.45,213.46 L216.52,209.57 L217.59,205.45 L218.66,201.70 L219.73,198.39 L220.80,195.11 L221.87,191.79 L222.94,188.41 L224.01,185.06 L225.08,182.60 L226.15,181.14 L227.22,179.78 L228.29,178.54 L229.36,177.67 L230.43,177.62 L231.50,178.29 L232.57,178.52 L233.64,178.66 L234.71,179.47 L235.78,180.37 L236.85,181.37 L237.92,182.28 L238.99,182.44 L240.06,182.70 L241.13,183.54 L242.20,184.44 L243.27,185.38 L244.34,186.22 L245.41,186.83 L246.48,187.48 L247.55,188.25 L248.62,189.01 L249.69,189.78 L250.76,190.27 L251.83,190.81 L252.90,191.63 L253.97,192.45 L255.04,193.38 L256.11,194.05 L257.18,194.51 L258.25,195.02 L259.32,195.19 L260.39,195.53 L261.46,196.34 L262.53,196.88 L263.60,197.22 L264.67,197.43 L265.74,197.68 L266.81,197.96 L267.88,198.18 L268.95,198.73 L270.02,199.24 L271.09,199.28 L272.16,199.32 L273.23,199.81 L274.30,200.55 L275.37,201.17 L276.44,201.43 L277.51,201.36 L278.58,201.49 L279.65,202.00 L280.72,202.26 L281.79,202.49 L282.86,202.99 L283.93,203.31 L285.00,203.26 L286.07,203.12 L287.14,203.15 L288.21,203.44 L289.28,204.04 L290.35,204.63 L291.42,204.99 L292.49,205.06 L293.56,205.37 L294.63,205.76 L295.70,205.42 L296.77,205.23 L297.84,205.77 L298.91,206.27 L299.98,206.38 L301.05,206.32 L302.12,206.63 L303.19,207.12 L304.26,206.99 L305.33,206.86 L306.40,207.11 L307.47,207.29 L308.54,207.72 L309.61,208.14 L310.68,208.07 L311.75,208.08" stroke="#ff0000" stroke-width="6.8" fill="none" stroke-linejoin="round"/>
<path d="M71.00,205.90 L72.00,205.82 L73.00,205.74 L74.00,205.66 L75.00,205.58 L76.00,205.51 L77.00,205.43 L78.00,205.35 L79.00,205.27 L80.00,205.19 L81.00,205.11 L82.00,205.03 L83.00,204.95 L84.00,204.87 L85.00,204.79 L86.00,204.72 L87.00,204.64 L88.00,204.56 L89.00,204.47 L90.00,204.38 L91.00,204.27 L92.00,204.15 L93.00,204.02 L94.00,203.90 L95.00,203.78 L96.00,203.65 L97.00,203.53 L98.00,203.40 L99.00,203.28 L100.00,203.15 L101.00,203.02 L102.00,202.90 L103.00,202.78 L104.00,202.65 L105.00,202.53 L106.00,202.40 L107.00,202.27 L108.00,202.14 L109.00,201.99 L110.00,201.78 L111.00,201.50 L112.00,201.17 L113.00,200.82 L114.00,200.46 L115.00,200.10 L116.00,199.74 L117.00,199.38 L118.00,199.01 L119.00,198.63 L120.00,198.21 L121.00,197.73 L122.00,197.21 L123.00,196.68 L124.00,196.15 L125.00,195.62 L126.00,195.11 L127.00,194.60 L128.00,194.10 L129.00,193.60 L130.00,193.11 L131.00,192.62 L132.00,192.14 L133.00,191.65 L134.00,191.14 L135.00,190.56 L136.00,189.90 L137.00,189.17 L138.00,188.42 L139.00,187.66 L140.00,186.91 L141.00,186.16 L142.00,185.42 L143.00,184.68 L144.00,183.94 L145.00,183.19 L146.00,182.44 L147.00,181.68 L148.00,180.92 L149.00,180.18 L150.00,179.47 L151.00,178.86 L152.00,178.45 L153.00,178.36 L154.00,178.64 L155.00,179.22 L156.00,180.07 L157.00,181.18 L158.00,182.63 L159.00,184.48 L160.00,186.68 L161.00,189.13 L162.00,191.88 L163.00,195.01 L164.00,198.54 L165.00,202.32 L166.00,206.19 L167.00,210.08 L168.00,213.98 L169.00,217.87 L170.00,221.71 L171.00,225.38 L172.00,228.71 L173.00,231.58 L174.00,234.07 L175.00,236.34 L176.00,238.52 L177.00,240.71 L178.00,242.97 L179.00,245.23 L180.00,247.38 L181.00,249.36 L182.00,251.12 L183.00,252.61 L184.00,253.84 L185.00,254.84 L186.00,255.62 L187.00,256.17 L188.00,256.55 L189.00,256.83 L190.00,257.04 L191.00,257.11 L192.00,257.02 L193.00,256.81 L194.00,256.53 L195.00,256.20 L196.00,255.76 L197.00,255.17 L198.00,254.46 L199.00,253.62 L200.00,252.58 L201.00,251.31 L202.00,249.83 L203.00,248.19 L204.00,246.35 L205.00,244.21 L206.00,241.72 L207.00,238.89 L208.00,235.75 L209.00,232.46 L210.00,229.17 L211.00,225.96 L212.00,222.79 L213.00,219.57 L214.00,216.29 L215.00,212.97 L216.00,209.63 L217.00,206.29 L218.00,202.95 L219.00,199.61 L220.00,196.28 L221.00,192.98 L222.00,189.78 L223.00,186.85 L224.00,184.36 L225.00,182.34 L226.00,180.70 L227.00,179.43 L228.00,178.53 L229.00,177.98 L230.00,177.79 L231.00,177.91 L232.00,178.25 L233.00,178.78 L234.00,179.40 L235.00,180.06 L236.00,180.71 L237.00,181.34 L238.00,181.96 L239.00,182.60 L240.00,183.26 L241.00,183.96 L242.00,184.68 L243.00,185.42 L244.00,186.14 L245.00,186.84 L246.00,187.50 L247.00,188.14 L248.00,188.75 L249.00,189.35 L250.00,189.91 L251.00,190.41 L252.00,190.87 L253.00,191.32 L254.00,191.77 L255.00,192.24 L256.00,192.73 L257.00,193.24 L258.00,193.76 L259.00,194.27 L260.00,194.76 L261.00,195.24 L262.00,195.70 L263.00,196.15 L264.00,196.60 L265.00,197.05 L266.00,197.50 L267.00,197.95 L268.00,198.39 L269.00,198.81 L270.00,199.17 L271.00,199.45 L272.00,199.67 L273.00,199.87 L274.00,200.06 L275.00,200.25 L276.00,200.44 L277.00,200.63 L278.00,200.82 L279.00,201.00 L280.00,201.18 L281.00,201.34 L282.00,201.50 L283.00,201.65 L284.00,201.80 L285.00,201.95 L286.00,202.10 L287.00,202.25 L288.00,202.40 L289.00,202.55 L290.00,202.68 L291.00,202.82 L292.00,202.94 L293.00,203.06 L294.00,203.18 L295.00,203.30 L296.00,203.42 L297.00,203.54 L298.00,203.66 L299.00,203.78 L300.00,203.89 L301.00,204.00 L302.00,204.10 L303.00,204.20 L304.00,204.30 L305.00,204.40 L306.00,204.50 L307.00,204.60 L308.00,204.70 L309.00,204.80 L310.00,204.90 L311.00,205.00 L312.00,205.10" stroke="#000" stroke-width="2.5" fill="none" stroke-linejoin="round"/>
<path d="M69.30,251.47h4.4v4.4h-4.4zM70.37,251.07h4.4v4.4h-4.4zM71.44,250.93h4.4v4.4h-4.4zM72.51,250.87h4.4v4.4h-4.4zM73.58,250.69h4.4v4.4h-4.4zM74.65,250.66h4.4v4.4h-4.4zM75.72,250.50h4.4v4.4h-4.4zM76.79,250.37h4.4v4.4h-4.4zM77.86,250.59h4.4v4.4h-4.4zM78.93,250.59h4.4v4.4h-4.4zM80.00,250.30h4.4v4.4h-4.4zM81.07,250.25h4.4v4.4h-4.4zM82.14,250.24h4.4v4.4h-4.4zM83.21,250.04h4.4v4.4h-4.4zM84.28,249.72h4.4v4.4h-4.4zM85.35,249.52h4.4v4.4h-4.4zM86.42,249.55h4.4v4.4h-4.4zM87.49,249.48h4.4v4.4h-4.4zM88.56,249.13h4.4v4.4h-4.4zM89.63,248.92h4.4v4.4h-4.4zM90.70,249.00h4.4v4.4h-4.4zM91.77,248.78h4.4v4.4h-4.4zM92.84,248.58h4.4v4.4h-4.4zM93.91,248.59h4.4v4.4h-4.4zM94.98,248.11h4.4v4.4h-4.4zM96.05,247.54h4.4v4.4h-4.4zM97.12,247.15h4.4v4.4h-4.4zM98.19,246.84h4.4v4.4h-4.4zM99.26,246.70h4.4v4.4h-4.4zM100.33,246.21h4.4v4.4h-4.4zM101.40,245.65h4.4v4.4h-4.4zM102.47,245.15h4.4v4.4h-4.4zM103.54,244.47h4.4v4.4h-4.4zM104.61,243.83h4.4v4.4h-4.4zM105.68,243.13h4.4v4.4h-4.4zM106.75,242.55h4.4v4.4h-4.4zM107.82,242.26h4.4v4.4h-4.4zM108.89,242.17h4.4v4.4h-4.4zM109.96,241.73h4.4v4.4h-4.4zM111.03,240.96h4.4v4.4h-4.4zM112.10,240.35h4.4v4.4h-4.4zM113.17,239.80h4.4v4.4h-4.4zM114.24,239.16h4.4v4.4h-4.4zM115.31,238.33h4.4v4.4h-4.4zM116.38,237.43h4.4v4.4h-4.4zM117.45,236.88h4.4v4.4h-4.4zM118.52,236.75h4.4v4.4h-4.4zM119.59,236.42h4.4v4.4h-4.4zM120.66,235.49h4.4v4.4h-4.4zM121.73,234.70h4.4v4.4h-4.4zM122.80,234.21h4.4v4.4h-4.4zM123.87,233.40h4.4v4.4h-4.4zM124.94,232.48h4.4v4.4h-4.4zM126.01,231.63h4.4v4.4h-4.4zM127.08,230.66h4.4v4.4h-4.4zM128.15,229.54h4.4v4.4h-4.4zM129.22,228.51h4.4v4.4h-4.4zM130.29,227.69h4.4v4.4h-4.4zM131.36,226.85h4.4v4.4h-4.4zM132.43,225.86h4.4v4.4h-4.4zM133.50,224.52h4.4v4.4h-4.4zM134.57,223.18h4.4v4.4h-4.4zM135.64,222.37h4.4v4.4h-4.4zM136.71,221.43h4.4v4.4h-4.4zM137.78,219.87h4.4v4.4h-4.4zM138.85,218.23h4.4v4.4h-4.4zM139.92,216.78h4.4v4.4h-4.4zM140.99,215.48h4.4v4.4h-4.4zM142.06,214.23h4.4v4.4h-4.4zM143.13,213.10h4.4v4.4h-4.4zM144.20,212.12h4.4v4.4h-4.4zM145.27,210.92h4.4v4.4h-4.4zM146.34,209.84h4.4v4.4h-4.4zM147.41,209.06h4.4v4.4h-4.4zM148.48,208.08h4.4v4.4h-4.4zM149.55,207.00h4.4v4.4h-4.4zM150.62,206.36h4.4v4.4h-4.4zM151.69,206.10h4.4v4.4h-4.4zM152.76,206.01h4.4v4.4h-4.4zM153.83,206.69h4.4v4.4h-4.4zM154.90,208.62h4.4v4.4h-4.4zM155.97,211.34h4.4v4.4h-4.4zM157.04,214.57h4.4v4.4h-4.4zM158.11,218.62h4.4v4.4h-4.4zM159.18,223.57h4.4v4.4h-4.4zM160.25,229.07h4.4v4.4h-4.4zM161.32,234.95h4.4v4.4h-4.4zM162.39,241.04h4.4v4.4h-4.4zM163.46,246.81h4.4v4.4h-4.4zM164.53,252.22h4.4v4.4h-4.4zM165.60,257.65h4.4v4.4h-4.4zM166.67,263.14h4.4v4.4h-4.4zM167.74,268.58h4.4v4.4h-4.4zM168.81,273.88h4.4v4.4h-4.4zM169.88,278.95h4.4v4.4h-4.4zM170.95,283.93h4.4v4.4h-4.4zM172.02,288.55h4.4v4.4h-4.4zM173.09,292.27h4.4v4.4h-4.4zM174.16,295.39h4.4v4.4h-4.4zM175.23,298.35h4.4v4.4h-4.4zM176.30,301.16h4.4v4.4h-4.4zM177.37,303.80h4.4v4.4h-4.4zM178.44,305.87h4.4v4.4h-4.4zM179.51,307.51h4.4v4.4h-4.4zM180.58,309.10h4.4v4.4h-4.4zM181.65,310.52h4.4v4.4h-4.4zM182.72,311.73h4.4v4.4h-4.4zM183.79,312.70h4.4v4.4h-4.4zM184.86,313.37h4.4v4.4h-4.4zM185.93,313.67h4.4v4.4h-4.4zM187.00,313.93h4.4v4.4h-4.4zM188.07,314.33h4.4v4.4h-4.4zM189.14,314.56h4.4v4.4h-4.4zM190.21,314.33h4.4v4.4h-4.4zM191.28,313.91h4.4v4.4h-4.4zM192.35,313.66h4.4v4.4h-4.4zM193.42,313.23h4.4v4.4h-4.4zM194.49,312.46h4.4v4.4h-4.4zM195.56,311.75h4.4v4.4h-4.4zM196.63,310.94h4.4v4.4h-4.4zM197.70,309.48h4.4v4.4h-4.4zM198.77,307.83h4.4v4.4h-4.4zM199.84,306.18h4.4v4.4h-4.4zM200.91,304.02h4.4v4.4h-4.4zM201.98,301.45h4.4v4.4h-4.4zM203.05,298.58h4.4v4.4h-4.4zM204.12,295.22h4.4v4.4h-4.4zM205.19,291.46h4.4v4.4h-4.4zM206.26,287.43h4.4v4.4h-4.4zM207.33,283.00h4.4v4.4h-4.4zM208.40,278.32h4.4v4.4h-4.4zM209.47,273.56h4.4v4.4h-4.4zM210.54,268.60h4.4v4.4h-4.4zM211.61,263.24h4.4v4.4h-4.4zM212.68,257.41h4.4v4.4h-4.4zM213.75,251.67h4.4v4.4h-4.4zM214.82,246.29h4.4v4.4h-4.4zM215.89,240.87h4.4v4.4h-4.4zM216.96,235.78h4.4v4.4h-4.4zM218.03,231.21h4.4v4.4h-4.4zM219.10,226.76h4.4v4.4h-4.4zM220.17,222.50h4.4v4.4h-4.4zM221.24,218.42h4.4v4.4h-4.4zM222.31,214.65h4.4v4.4h-4.4zM223.38,211.57h4.4v4.4h-4.4zM224.45,209.23h4.4v4.4h-4.4zM225.52,207.54h4.4v4.4h-4.4zM226.59,206.54h4.4v4.4h-4.4zM227.66,206.21h4.4v4.4h-4.4zM228.73,206.44h4.4v4.4h-4.4zM229.80,207.05h4.4v4.4h-4.4zM230.87,207.80h4.4v4.4h-4.4zM231.94,208.88h4.4v4.4h-4.4zM233.01,210.13h4.4v4.4h-4.4zM234.08,211.28h4.4v4.4h-4.4zM235.15,212.11h4.4v4.4h-4.4zM236.22,212.79h4.4v4.4h-4.4zM237.29,213.97h4.4v4.4h-4.4zM238.36,215.31h4.4v4.4h-4.4zM239.43,216.27h4.4v4.4h-4.4zM240.50,217.21h4.4v4.4h-4.4zM241.57,218.60h4.4v4.4h-4.4zM242.64,219.88h4.4v4.4h-4.4zM243.71,220.81h4.4v4.4h-4.4zM244.78,222.13h4.4v4.4h-4.4zM245.85,223.47h4.4v4.4h-4.4zM246.92,224.53h4.4v4.4h-4.4zM247.99,225.66h4.4v4.4h-4.4zM249.06,226.69h4.4v4.4h-4.4zM250.13,227.76h4.4v4.4h-4.4zM251.20,228.99h4.4v4.4h-4.4zM252.27,230.24h4.4v4.4h-4.4zM253.34,231.43h4.4v4.4h-4.4zM254.41,232.47h4.4v4.4h-4.4zM255.48,233.34h4.4v4.4h-4.4zM256.55,234.45h4.4v4.4h-4.4zM257.62,235.70h4.4v4.4h-4.4zM258.69,236.57h4.4v4.4h-4.4zM259.76,237.33h4.4v4.4h-4.4zM260.83,238.29h4.4v4.4h-4.4zM261.90,239.13h4.4v4.4h-4.4zM262.97,239.90h4.4v4.4h-4.4zM264.04,240.72h4.4v4.4h-4.4zM265.11,241.43h4.4v4.4h-4.4zM266.18,241.77h4.4v4.4h-4.4zM267.25,241.98h4.4v4.4h-4.4zM268.32,242.65h4.4v4.4h-4.4zM269.39,243.49h4.4v4.4h-4.4zM270.46,244.10h4.4v4.4h-4.4zM271.53,244.62h4.4v4.4h-4.4zM272.60,244.91h4.4v4.4h-4.4zM273.67,245.23h4.4v4.4h-4.4zM274.74,245.69h4.4v4.4h-4.4zM275.81,245.80h4.4v4.4h-4.4zM276.88,246.15h4.4v4.4h-4.4zM277.95,246.76h4.4v4.4h-4.4zM279.02,246.97h4.4v4.4h-4.4zM280.09,247.39h4.4v4.4h-4.4zM281.16,247.88h4.4v4.4h-4.4zM282.23,247.89h4.4v4.4h-4.4zM283.30,248.01h4.4v4.4h-4.4zM284.37,248.38h4.4v4.4h-4.4zM285.44,248.46h4.4v4.4h-4.4zM286.51,248.61h4.4v4.4h-4.4zM287.58,249.14h4.4v4.4h-4.4zM288.65,249.61h4.4v4.4h-4.4zM289.72,249.86h4.4v4.4h-4.4zM290.79,249.97h4.4v4.4h-4.4zM291.86,249.98h4.4v4.4h-4.4zM292.93,249.98h4.4v4.4h-4.4zM294.00,250.05h4.4v4.4h-4.4zM295.07,250.33h4.4v4.4h-4.4zM296.14,250.62h4.4v4.4h-4.4zM297.21,250.74h4.4v4.4h-4.4zM298.28,250.82h4.4v4.4h-4.4zM299.35,250.81h4.4v4.4h-4.4zM300.42,250.86h4.4v4.4h-4.4zM301.49,251.04h4.4v4.4h-4.4zM302.56,251.22h4.4v4.4h-4.4zM303.63,251.39h4.4v4.4h-4.4zM304.70,251.61h4.4v4.4h-4.4zM305.77,251.77h4.4v4.4h-4.4zM306.84,251.65h4.4v4.4h-4.4zM307.91,251.49h4.4v4.4h-4.4zM308.98,251.44h4.4v4.4h-4.4z" fill="#000"/>
<path d="M69.30,255.07h4.4v4.4h-4.4zM70.37,254.52h4.4v4.4h-4.4zM71.44,253.94h4.4v4.4h-4.4zM72.51,253.58h4.4v4.4h-4.4zM73.58,253.65h4.4v4.4h-4.4zM74.65,254.25h4.4v4.4h-4.4zM75.72,254.38h4.4v4.4h-4.4zM76.79,254.10h4.4v4.4h-4.4zM77.86,254.08h4.4v4.4h-4.4zM78.93,253.74h4.4v4.4h-4.4zM80.00,253.32h4.4v4.4h-4.4zM81.07,253.30h4.4v4.4h-4.4zM82.14,253.02h4.4v4.4h-4.4zM83.21,252.61h4.4v4.4h-4.4zM84.28,252.30h4.4v4.4h-4.4zM85.35,252.14h4.4v4.4h-4.4zM86.42,252.28h4.4v4.4h-4.4zM87.49,252.12h4.4v4.4h-4.4zM88.56,251.65h4.4v4.4h-4.4zM89.63,251.52h4.4v4.4h-4.4zM90.70,251.65h4.4v4.4h-4.4zM91.77,251.22h4.4v4.4h-4.4zM92.84,250.93h4.4v4.4h-4.4zM93.91,250.86h4.4v4.4h-4.4zM94.98,250.13h4.4v4.4h-4.4zM96.05,249.63h4.4v4.4h-4.4zM97.12,249.53h4.4v4.4h-4.4zM98.19,249.29h4.4v4.4h-4.4zM99.26,248.91h4.4v4.4h-4.4zM100.33,248.33h4.4v4.4h-4.4zM101.40,247.88h4.4v4.4h-4.4zM102.47,247.25h4.4v4.4h-4.4zM103.54,246.50h4.4v4.4h-4.4zM104.61,245.94h4.4v4.4h-4.4zM105.68,245.22h4.4v4.4h-4.4zM106.75,244.68h4.4v4.4h-4.4zM107.82,244.43h4.4v4.4h-4.4zM108.89,244.24h4.4v4.4h-4.4zM109.96,243.84h4.4v4.4h-4.4zM111.03,243.14h4.4v4.4h-4.4zM112.10,242.59h4.4v4.4h-4.4zM113.17,242.22h4.4v4.4h-4.4zM114.24,241.73h4.4v4.4h-4.4zM115.31,240.92h4.4v4.4h-4.4zM116.38,240.12h4.4v4.4h-4.4zM117.45,239.88h4.4v4.4h-4.4zM118.52,240.06h4.4v4.4h-4.4zM119.59,239.45h4.4v4.4h-4.4zM120.66,238.21h4.4v4.4h-4.4zM121.73,237.65h4.4v4.4h-4.4zM122.80,237.13h4.4v4.4h-4.4zM123.87,236.34h4.4v4.4h-4.4zM124.94,235.74h4.4v4.4h-4.4zM126.01,235.14h4.4v4.4h-4.4zM127.08,234.50h4.4v4.4h-4.4zM128.15,233.37h4.4v4.4h-4.4zM129.22,231.94h4.4v4.4h-4.4zM130.29,231.04h4.4v4.4h-4.4zM131.36,230.57h4.4v4.4h-4.4zM132.43,229.83h4.4v4.4h-4.4zM133.50,228.54h4.4v4.4h-4.4zM134.57,227.32h4.4v4.4h-4.4zM135.64,226.47h4.4v4.4h-4.4zM136.71,225.38h4.4v4.4h-4.4zM137.78,223.74h4.4v4.4h-4.4zM138.85,222.08h4.4v4.4h-4.4zM139.92,220.46h4.4v4.4h-4.4zM140.99,219.23h4.4v4.4h-4.4zM142.06,218.38h4.4v4.4h-4.4zM143.13,217.22h4.4v4.4h-4.4zM144.20,216.18h4.4v4.4h-4.4zM145.27,215.12h4.4v4.4h-4.4zM146.34,213.97h4.4v4.4h-4.4zM147.41,213.14h4.4v4.4h-4.4zM148.48,212.08h4.4v4.4h-4.4zM149.55,211.00h4.4v4.4h-4.4zM150.62,210.61h4.4v4.4h-4.4zM151.69,210.32h4.4v4.4h-4.4zM152.76,210.11h4.4v4.4h-4.4zM153.83,210.95h4.4v4.4h-4.4zM154.90,212.82h4.4v4.4h-4.4zM155.97,215.38h4.4v4.4h-4.4zM157.04,218.70h4.4v4.4h-4.4zM158.11,222.87h4.4v4.4h-4.4zM159.18,227.89h4.4v4.4h-4.4zM160.25,233.48h4.4v4.4h-4.4zM161.32,239.28h4.4v4.4h-4.4zM162.39,245.18h4.4v4.4h-4.4zM163.46,250.93h4.4v4.4h-4.4zM164.53,256.44h4.4v4.4h-4.4zM165.60,261.90h4.4v4.4h-4.4zM166.67,267.14h4.4v4.4h-4.4zM167.74,272.44h4.4v4.4h-4.4zM168.81,278.26h4.4v4.4h-4.4zM169.88,283.90h4.4v4.4h-4.4zM170.95,288.82h4.4v4.4h-4.4zM172.02,293.37h4.4v4.4h-4.4zM173.09,297.23h4.4v4.4h-4.4zM174.16,300.22h4.4v4.4h-4.4zM175.23,303.16h4.4v4.4h-4.4zM176.30,306.24h4.4v4.4h-4.4zM177.37,308.96h4.4v4.4h-4.4zM178.44,311.01h4.4v4.4h-4.4zM179.51,312.71h4.4v4.4h-4.4zM180.58,314.56h4.4v4.4h-4.4zM181.65,316.13h4.4v4.4h-4.4zM182.72,317.21h4.4v4.4h-4.4zM183.79,318.38h4.4v4.4h-4.4zM184.86,319.57h4.4v4.4h-4.4zM185.93,319.87h4.4v4.4h-4.4zM187.00,319.67h4.4v4.4h-4.4zM188.07,320.19h4.4v4.4h-4.4zM189.14,320.66h4.4v4.4h-4.4zM190.21,320.18h4.4v4.4h-4.4zM191.28,319.70h4.4v4.4h-4.4zM192.35,319.58h4.4v4.4h-4.4zM193.42,318.98h4.4v4.4h-4.4zM194.49,318.03h4.4v4.4h-4.4zM195.56,317.18h4.4v4.4h-4.4zM196.63,316.02h4.4v4.4h-4.4zM197.70,314.50h4.4v4.4h-4.4zM198.77,313.30h4.4v4.4h-4.4zM199.84,311.80h4.4v4.4h-4.4zM200.91,309.27h4.4v4.4h-4.4zM201.98,306.43h4.4v4.4h-4.4zM203.05,303.46h4.4v4.4h-4.4zM204.12,299.77h4.4v4.4h-4.4zM205.19,295.61h4.4v4.4h-4.4zM206.26,291.60h4.4v4.4h-4.4zM207.33,287.42h4.4v4.4h-4.4zM208.40,282.62h4.4v4.4h-4.4zM209.47,277.58h4.4v4.4h-4.4zM210.54,272.74h4.4v4.4h-4.4zM211.61,267.58h4.4v4.4h-4.4zM212.68,261.75h4.4v4.4h-4.4zM213.75,256.19h4.4v4.4h-4.4zM214.82,250.78h4.4v4.4h-4.4zM215.89,245.09h4.4v4.4h-4.4zM216.96,240.02h4.4v4.4h-4.4zM218.03,235.60h4.4v4.4h-4.4zM219.10,231.20h4.4v4.4h-4.4zM220.17,227.03h4.4v4.4h-4.4zM221.24,223.09h4.4v4.4h-4.4zM222.31,219.20h4.4v4.4h-4.4zM223.38,215.85h4.4v4.4h-4.4zM224.45,213.39h4.4v4.4h-4.4zM225.52,211.64h4.4v4.4h-4.4zM226.59,210.70h4.4v4.4h-4.4zM227.66,210.31h4.4v4.4h-4.4zM228.73,210.39h4.4v4.4h-4.4zM229.80,211.22h4.4v4.4h-4.4zM230.87,212.15h4.4v4.4h-4.4zM231.94,213.09h4.4v4.4h-4.4zM233.01,214.21h4.4v4.4h-4.4zM234.08,215.39h4.4v4.4h-4.4zM235.15,216.32h4.4v4.4h-4.4zM236.22,216.90h4.4v4.4h-4.4zM237.29,217.93h4.4v4.4h-4.4zM238.36,219.51h4.4v4.4h-4.4zM239.43,220.68h4.4v4.4h-4.4zM240.50,221.45h4.4v4.4h-4.4zM241.57,222.87h4.4v4.4h-4.4zM242.64,224.62h4.4v4.4h-4.4zM243.71,225.86h4.4v4.4h-4.4zM244.78,227.00h4.4v4.4h-4.4zM245.85,228.13h4.4v4.4h-4.4zM246.92,229.16h4.4v4.4h-4.4zM247.99,230.35h4.4v4.4h-4.4zM249.06,231.26h4.4v4.4h-4.4zM250.13,232.14h4.4v4.4h-4.4zM251.20,233.51h4.4v4.4h-4.4zM252.27,234.80h4.4v4.4h-4.4zM253.34,235.84h4.4v4.4h-4.4zM254.41,236.99h4.4v4.4h-4.4zM255.48,238.07h4.4v4.4h-4.4zM256.55,239.10h4.4v4.4h-4.4zM257.62,240.32h4.4v4.4h-4.4zM258.69,241.35h4.4v4.4h-4.4zM259.76,241.99h4.4v4.4h-4.4zM260.83,242.47h4.4v4.4h-4.4zM261.90,243.03h4.4v4.4h-4.4zM262.97,243.96h4.4v4.4h-4.4zM264.04,244.94h4.4v4.4h-4.4zM265.11,245.62h4.4v4.4h-4.4zM266.18,246.11h4.4v4.4h-4.4zM267.25,246.55h4.4v4.4h-4.4zM268.32,247.25h4.4v4.4h-4.4zM269.39,247.86h4.4v4.4h-4.4zM270.46,248.15h4.4v4.4h-4.4zM271.53,248.78h4.4v4.4h-4.4zM272.60,249.23h4.4v4.4h-4.4zM273.67,249.51h4.4v4.4h-4.4zM274.74,249.98h4.4v4.4h-4.4zM275.81,249.81h4.4v4.4h-4.4zM276.88,250.17h4.4v4.4h-4.4zM277.95,250.88h4.4v4.4h-4.4zM279.02,250.89h4.4v4.4h-4.4zM280.09,251.31h4.4v4.4h-4.4zM281.16,251.70h4.4v4.4h-4.4zM282.23,251.64h4.4v4.4h-4.4zM283.30,251.96h4.4v4.4h-4.4zM284.37,252.46h4.4v4.4h-4.4zM285.44,252.57h4.4v4.4h-4.4zM286.51,252.62h4.4v4.4h-4.4zM287.58,252.97h4.4v4.4h-4.4zM288.65,253.39h4.4v4.4h-4.4zM289.72,253.58h4.4v4.4h-4.4zM290.79,253.59h4.4v4.4h-4.4zM291.86,253.86h4.4v4.4h-4.4zM292.93,254.15h4.4v4.4h-4.4zM294.00,254.38h4.4v4.4h-4.4zM295.07,254.51h4.4v4.4h-4.4zM296.14,254.47h4.4v4.4h-4.4zM297.21,254.56h4.4v4.4h-4.4zM298.28,254.59h4.4v4.4h-4.4zM299.35,254.61h4.4v4.4h-4.4zM300.42,254.88h4.4v4.4h-4.4zM301.49,255.11h4.4v4.4h-4.4zM302.56,255.19h4.4v4.4h-4.4zM303.63,255.28h4.4v4.4h-4.4zM304.70,255.38h4.4v4.4h-4.4zM305.77,255.36h4.4v4.4h-4.4zM306.84,255.31h4.4v4.4h-4.4zM307.91,255.25h4.4v4.4h-4.4zM308.98,254.99h4.4v4.4h-4.4z" fill="#000"/>
</g>
<g clip-path="url(#cb)">
<path d="M434.50,42.00 L435.10,41.66 L435.70,41.32 L436.30,40.98 L436.90,40.64 L437.50,40.30 L438.10,39.96 L438.70,39.86 L439.30,39.81 L439.90,39.75 L440.50,39.69 L441.10,39.31 L441.70,38.94 L442.30,38.56 L442.90,38.19 L443.50,37.80 L444.10,37.41 L444.70,37.49 L445.30,38.04 L445.90,38.56 L446.50,39.05 L447.10,39.54 L447.70,39.69 L448.30,39.50 L448.90,39.32 L449.50,39.13 L450.10,38.94 L450.70,38.75 L451.30,38.56 L451.90,38.36 L452.50,38.17 L453.10,38.00 L453.70,38.05 L454.30,38.11 L454.90,38.21 L455.50,38.34 L456.10,38.50 L456.70,38.67 L457.30,38.72 L457.90,38.77 L458.50,38.83 L459.10,38.88 L459.70,38.93 L460.30,38.99 L460.90,39.02 L461.50,38.66 L462.10,38.31 L462.70,37.96 L463.30,37.60 L463.90,37.52 L464.50,37.57 L465.10,37.60 L465.70,37.62 L466.30,37.61 L466.90,37.60 L467.50,37.63 L468.10,37.69 L468.70,37.75 L469.30,37.81 L469.90,37.94 L470.50,38.11 L471.10,38.29 L471.70,38.46 L472.30,38.64 L472.90,38.81 L473.50,38.81 L474.10,38.72 L474.70,38.64 L475.30,38.57 L475.90,38.36 L476.50,37.97 L477.10,37.57 L477.70,37.18 L478.30,36.78 L478.90,36.39 L479.50,36.24 L480.10,36.26 L480.70,36.28 L481.30,36.30 L481.90,36.31 L482.50,36.44 L483.10,36.72 L483.70,36.99 L484.30,37.27 L484.90,37.54 L485.50,37.81 L486.10,38.07 L486.70,38.35 L487.30,38.65 L487.90,38.96 L488.50,38.92 L489.10,38.62 L489.70,38.33 L490.30,38.04 L490.90,37.74 L491.50,37.44 L492.10,37.12 L492.70,36.80 L493.30,36.55 L493.90,36.29 L494.50,36.03 L495.10,35.77 L495.70,35.77 L496.30,36.17 L496.90,36.57 L497.50,36.98 L498.10,37.11 L498.70,36.79 L499.30,36.47 L499.90,36.18 L500.50,35.89 L501.10,35.63 L501.70,35.38 L502.30,35.19 L502.90,35.55 L503.50,35.91 L504.10,36.27 L504.70,36.42 L505.30,36.58 L505.90,36.73 L506.50,36.88 L507.10,37.03 L507.70,36.97 L508.30,36.79 L508.90,36.60 L509.50,36.42 L510.10,36.23 L510.70,36.03 L511.30,35.84 L511.90,35.67 L512.50,35.50 L513.10,35.33 L513.70,35.16 L514.30,34.99 L514.90,35.07 L515.50,35.17 L516.10,35.26 L516.70,35.36 L517.30,35.46 L517.90,35.36 L518.50,35.03 L519.10,34.69 L519.70,34.35 L520.30,33.98 L520.90,33.59 L521.50,33.51 L522.10,33.48 L522.70,33.45 L523.30,33.42 L523.90,33.41 L524.50,33.36 L525.10,33.26 L525.70,33.22 L526.30,33.23 L526.90,33.26 L527.50,33.37 L528.10,33.62 L528.70,33.87 L529.30,34.12 L529.90,34.35 L530.50,34.47 L531.10,34.60 L531.70,34.74 L532.30,34.87 L532.90,35.01 L533.50,35.15 L534.10,35.28 L534.70,35.51 L535.30,35.77 L535.90,36.02 L536.50,36.28 L537.10,36.50 L537.70,36.63 L538.30,36.75 L538.90,36.89 L539.50,37.05 L540.10,37.37 L540.70,37.71 L541.30,38.07 L541.90,38.43 L542.50,38.80 L543.10,39.06 L543.70,39.32 L544.30,39.58 L544.90,39.85 L545.50,40.12 L546.10,40.42 L546.70,40.75 L547.30,41.08 L547.90,41.41 L548.50,41.73 L549.10,42.01 L549.70,42.31 L550.30,42.63 L550.90,42.85 L551.50,43.01 L552.10,43.13 L552.70,43.01 L553.30,42.30 L553.90,41.60 L554.50,40.92 L555.10,40.28 L555.70,39.68 L556.30,39.47 L556.90,40.06 L557.50,40.66 L558.10,41.27 L558.70,41.87 L559.30,42.48 L559.90,42.39 L560.50,42.01 L561.10,41.63 L561.70,41.23 L562.30,40.87 L562.90,40.60 L563.50,40.25 L564.10,39.83 L564.70,39.36 L565.30,38.86 L565.90,38.37 L566.50,38.01 L567.10,37.93 L567.70,37.89 L568.30,37.88 L568.90,37.93 L569.50,38.00 L570.10,37.94 L570.70,37.90 L571.30,37.85 L571.90,37.87 L572.50,37.96 L573.10,38.05 L573.70,38.14 L574.30,38.22 L574.90,38.11 L575.50,37.64 L576.10,37.15 L576.70,36.66 L577.30,36.16 L577.90,35.67 L578.50,35.18 L579.10,34.71 L579.70,34.84 L580.30,35.11 L580.90,35.43 L581.50,35.79 L582.10,35.99 L582.70,36.00 L583.30,36.01 L583.90,36.02 L584.50,35.88 L585.10,35.62 L585.70,35.36 L586.30,35.11 L586.90,34.85 L587.50,34.59 L588.10,34.33 L588.70,34.36 L589.30,34.53 L589.90,34.69 L590.50,34.84 L591.10,35.09 L591.70,35.48 L592.30,35.87 L592.90,36.25 L593.50,36.64 L594.10,36.95 L594.70,36.96 L595.30,36.97 L595.90,36.98 L596.50,36.99 L597.10,37.00 L597.70,37.01 L598.30,37.04 L598.90,37.12 L599.50,37.21 L600.10,37.31 L600.70,37.41 L601.30,37.53 L601.90,37.50 L602.50,37.40 L603.10,37.30 L603.70,37.21 L604.30,37.14 L604.90,37.15 L605.50,37.16 L606.10,37.17 L606.70,37.17 L607.30,37.16 L607.90,37.15 L608.50,37.14 L609.10,37.13 L609.70,37.13 L610.30,37.39 L610.90,37.68 L611.50,37.97 L612.10,38.26 L612.70,38.56 L613.30,38.49 L613.90,38.12 L614.50,37.76 L615.10,37.40 L615.70,37.03 L616.30,36.67 L616.90,36.84 L617.50,37.02 L618.10,37.20 L618.70,37.38 L619.30,37.56 L619.90,37.75 L620.50,37.94 L621.10,38.12 L621.70,38.31 L622.30,38.50 L622.90,38.69 L623.50,38.81 L624.10,38.45 L624.70,38.09 L625.30,37.73 L625.90,37.37 L626.50,37.01 L627.10,37.51 L627.70,38.11 L628.30,38.71 L628.90,39.31 L629.50,39.89 L630.10,40.44 L630.70,40.37 L631.30,39.90 L631.90,39.43 L632.50,38.95 L633.10,38.47 L633.70,38.14 L634.30,38.26 L634.90,38.39 L635.50,38.51 L636.10,38.63 L636.70,38.75 L637.30,39.24 L637.90,39.84 L638.50,40.43 L639.10,41.03 L639.70,40.74 L640.30,40.02 L640.90,39.32 L641.50,38.63 L642.10,37.95 L642.70,37.91 L643.30,38.00 L643.90,38.09 L644.50,38.18 L645.10,38.27 L645.70,38.54 L646.30,38.93 L646.90,39.32 L647.50,39.70 L648.10,40.09 L648.70,40.48 L649.30,40.86 L649.90,40.08 L650.50,39.31 L651.10,38.53 L651.70,37.95 L652.30,38.07 L652.90,38.20 L653.50,38.32 L654.10,38.44 L654.70,38.54 L655.30,38.63 L655.90,38.70 L656.50,38.86 L657.10,39.02 L657.70,39.19 L658.30,39.35 L658.90,39.51 L659.50,39.50 L660.10,39.43 L660.70,39.37 L661.30,39.30 L661.90,39.26 L662.50,39.25 L663.10,39.23 L663.70,39.22 L664.30,39.20 L664.90,39.10 L665.50,39.01 L666.10,38.92 L666.70,38.83 L667.30,38.74 L667.90,38.65 L668.50,38.80 L669.10,38.98 L669.70,39.17 L670.30,39.35 L670.90,39.50 L671.50,39.39 L672.10,39.28 L672.70,39.16 L673.30,39.05" stroke="#808000" stroke-width="2.7" fill="none" stroke-linejoin="round"/>
<path d="M434.50,87.20 L435.10,86.96 L435.70,86.72 L436.30,86.49 L436.90,86.25 L437.50,86.20 L438.10,86.38 L438.70,86.56 L439.30,86.75 L439.90,86.93 L440.50,87.11 L441.10,86.91 L441.70,86.49 L442.30,86.06 L442.90,85.64 L443.50,85.22 L444.10,85.17 L444.70,85.78 L445.30,86.40 L445.90,87.01 L446.50,87.63 L447.10,87.43 L447.70,86.99 L448.30,86.54 L448.90,86.10 L449.50,85.65 L450.10,85.18 L450.70,85.30 L451.30,85.57 L451.90,85.82 L452.50,86.08 L453.10,86.33 L453.70,86.56 L454.30,86.48 L454.90,86.39 L455.50,86.31 L456.10,86.23 L456.70,86.15 L457.30,85.99 L457.90,85.76 L458.50,85.53 L459.10,85.30 L459.70,85.07 L460.30,85.62 L460.90,86.19 L461.50,86.77 L462.10,87.34 L462.70,87.91 L463.30,88.49 L463.90,88.70 L464.50,87.82 L465.10,86.94 L465.70,86.04 L466.30,85.14 L466.90,84.60 L467.50,84.71 L468.10,84.82 L468.70,84.94 L469.30,85.05 L469.90,85.16 L470.50,85.26 L471.10,85.31 L471.70,85.36 L472.30,85.41 L472.90,85.46 L473.50,85.33 L474.10,84.44 L474.70,83.57 L475.30,82.71 L475.90,83.02 L476.50,83.44 L477.10,83.87 L477.70,84.30 L478.30,84.72 L478.90,85.15 L479.50,85.58 L480.10,85.33 L480.70,84.99 L481.30,84.64 L481.90,84.30 L482.50,84.04 L483.10,84.25 L483.70,84.45 L484.30,84.67 L484.90,84.89 L485.50,85.11 L486.10,85.35 L486.70,85.24 L487.30,84.68 L487.90,84.12 L488.50,83.57 L489.10,83.46 L489.70,83.49 L490.30,83.52 L490.90,83.55 L491.50,83.58 L492.10,83.61 L492.70,83.64 L493.30,84.15 L493.90,84.86 L494.50,85.56 L495.10,86.23 L495.70,86.12 L496.30,85.89 L496.90,85.64 L497.50,85.39 L498.10,85.18 L498.70,85.02 L499.30,84.87 L499.90,84.71 L500.50,84.54 L501.10,84.36 L501.70,84.35 L502.30,84.34 L502.90,84.32 L503.50,84.31 L504.10,84.29 L504.70,84.27 L505.30,84.20 L505.90,84.07 L506.50,83.95 L507.10,83.84 L507.70,83.74 L508.30,83.68 L508.90,83.52 L509.50,83.10 L510.10,82.68 L510.70,82.27 L511.30,81.86 L511.90,81.55 L512.50,81.29 L513.10,81.02 L513.70,80.75 L514.30,80.54 L514.90,80.62 L515.50,80.68 L516.10,80.72 L516.70,80.76 L517.30,80.78 L517.90,80.81 L518.50,80.77 L519.10,80.67 L519.70,80.58 L520.30,80.49 L520.90,80.40 L521.50,80.25 L522.10,80.09 L522.70,79.93 L523.30,79.77 L523.90,79.61 L524.50,79.76 L525.10,80.07 L525.70,80.40 L526.30,80.76 L526.90,81.12 L527.50,81.41 L528.10,81.47 L528.70,81.55 L529.30,81.64 L529.90,81.78 L530.50,81.97 L531.10,82.26 L531.70,82.66 L532.30,83.07 L532.90,83.49 L533.50,83.82 L534.10,84.11 L534.70,84.39 L535.30,84.64 L535.90,84.87 L536.50,85.09 L537.10,85.29 L537.70,85.43 L538.30,85.37 L538.90,85.31 L539.50,85.30 L540.10,85.49 L540.70,85.69 L541.30,85.88 L541.90,86.08 L542.50,86.28 L543.10,86.53 L543.70,86.80 L544.30,87.08 L544.90,87.36 L545.50,87.64 L546.10,87.81 L546.70,87.81 L547.30,87.78 L547.90,87.70 L548.50,87.54 L549.10,87.33 L549.70,87.15 L550.30,87.15 L550.90,87.15 L551.50,87.17 L552.10,87.22 L552.70,87.32 L553.30,87.52 L553.90,87.74 L554.50,87.96 L555.10,88.18 L555.70,88.39 L556.30,88.39 L556.90,88.19 L557.50,87.92 L558.10,87.59 L558.70,87.22 L559.30,87.03 L559.90,86.85 L560.50,86.66 L561.10,86.47 L561.70,86.28 L562.30,86.10 L562.90,86.00 L563.50,85.90 L564.10,85.80 L564.70,85.71 L565.30,85.65 L565.90,85.68 L566.50,85.71 L567.10,85.75 L567.70,85.79 L568.30,85.82 L568.90,85.86 L569.50,85.90 L570.10,85.44 L570.70,84.91 L571.30,84.38 L571.90,83.90 L572.50,83.55 L573.10,83.18 L573.70,82.80 L574.30,82.41 L574.90,82.02 L575.50,81.63 L576.10,81.27 L576.70,80.93 L577.30,80.61 L577.90,80.33 L578.50,80.12 L579.10,80.06 L579.70,80.02 L580.30,80.00 L580.90,80.00 L581.50,80.01 L582.10,80.07 L582.70,80.50 L583.30,81.06 L583.90,81.63 L584.50,82.22 L585.10,82.83 L585.70,82.73 L586.30,81.82 L586.90,80.95 L587.50,80.12 L588.10,79.30 L588.70,78.49 L589.30,79.25 L589.90,80.38 L590.50,81.49 L591.10,82.58 L591.70,83.62 L592.30,83.92 L592.90,83.91 L593.50,83.86 L594.10,83.78 L594.70,83.71 L595.30,83.84 L595.90,83.97 L596.50,84.10 L597.10,84.23 L597.70,84.35 L598.30,83.90 L598.90,83.45 L599.50,83.00 L600.10,82.58 L600.70,82.18 L601.30,82.62 L601.90,83.26 L602.50,83.91 L603.10,84.56 L603.70,85.22 L604.30,85.87 L604.90,86.29 L605.50,86.08 L606.10,85.86 L606.70,85.65 L607.30,85.43 L607.90,85.21 L608.50,84.99 L609.10,84.77 L609.70,84.55 L610.30,84.59 L610.90,84.69 L611.50,84.78 L612.10,84.87 L612.70,84.96 L613.30,85.06 L613.90,85.15 L614.50,85.20 L615.10,85.01 L615.70,84.82 L616.30,84.63 L616.90,84.49 L617.50,84.75 L618.10,85.02 L618.70,85.29 L619.30,85.55 L619.90,85.59 L620.50,85.59 L621.10,85.59 L621.70,85.57 L622.30,85.56 L622.90,85.59 L623.50,85.83 L624.10,86.08 L624.70,86.32 L625.30,86.57 L625.90,86.81 L626.50,86.88 L627.10,86.77 L627.70,86.67 L628.30,86.56 L628.90,86.46 L629.50,86.37 L630.10,86.32 L630.70,86.27 L631.30,86.23 L631.90,86.18 L632.50,86.13 L633.10,86.08 L633.70,86.11 L634.30,86.34 L634.90,86.57 L635.50,86.80 L636.10,87.02 L636.70,87.02 L637.30,87.03 L637.90,87.03 L638.50,87.03 L639.10,87.03 L639.70,87.03 L640.30,86.98 L640.90,86.93 L641.50,86.87 L642.10,86.81 L642.70,86.75 L643.30,86.49 L643.90,85.83 L644.50,85.17 L645.10,84.90 L645.70,85.42 L646.30,85.94 L646.90,86.47 L647.50,86.99 L648.10,87.51 L648.70,87.47 L649.30,87.02 L649.90,86.57 L650.50,86.12 L651.10,85.67 L651.70,85.27 L652.30,85.30 L652.90,85.34 L653.50,85.38 L654.10,85.41 L654.70,85.45 L655.30,85.49 L655.90,85.54 L656.50,85.74 L657.10,85.94 L657.70,86.14 L658.30,86.34 L658.90,86.54 L659.50,86.73 L660.10,86.90 L660.70,87.07 L661.30,87.25 L661.90,87.42 L662.50,87.59 L663.10,87.76 L663.70,87.93 L664.30,88.09 L664.90,88.26 L665.50,88.43 L666.10,87.79 L666.70,86.90 L667.30,86.01 L667.90,85.11 L668.50,85.54 L669.10,86.25 L669.70,86.96 L670.30,87.68 L670.90,88.39 L671.50,88.67 L672.10,88.72 L672.70,88.77 L673.30,88.82" stroke="#ff00ff" stroke-width="2.7" fill="none" stroke-linejoin="round"/>
<path d="M434.50,129.96 L435.10,130.32 L435.70,130.68 L436.30,131.04 L436.90,131.39 L437.50,131.35 L438.10,131.25 L438.70,131.15 L439.30,131.05 L439.90,130.96 L440.50,130.86 L441.10,130.76 L441.70,130.92 L442.30,131.10 L442.90,131.28 L443.50,131.46 L444.10,131.65 L444.70,131.83 L445.30,132.02 L445.90,132.20 L446.50,132.39 L447.10,132.57 L447.70,132.65 L448.30,132.45 L448.90,132.24 L449.50,132.03 L450.10,131.90 L450.70,132.04 L451.30,132.15 L451.90,132.26 L452.50,132.37 L453.10,132.47 L453.70,132.58 L454.30,132.45 L454.90,132.29 L455.50,132.14 L456.10,131.98 L456.70,131.82 L457.30,131.89 L457.90,131.95 L458.50,132.02 L459.10,132.08 L459.70,132.15 L460.30,132.22 L460.90,131.97 L461.50,131.30 L462.10,130.63 L462.70,129.95 L463.30,129.28 L463.90,129.17 L464.50,129.18 L465.10,129.19 L465.70,129.20 L466.30,129.22 L466.90,129.18 L467.50,129.05 L468.10,128.93 L468.70,128.80 L469.30,128.68 L469.90,128.56 L470.50,128.47 L471.10,128.93 L471.70,129.39 L472.30,129.86 L472.90,130.32 L473.50,130.40 L474.10,130.23 L474.70,130.07 L475.30,129.90 L475.90,129.74 L476.50,129.57 L477.10,129.73 L477.70,130.03 L478.30,130.33 L478.90,130.63 L479.50,130.76 L480.10,130.63 L480.70,130.50 L481.30,130.37 L481.90,130.24 L482.50,130.11 L483.10,130.03 L483.70,129.97 L484.30,129.91 L484.90,129.85 L485.50,130.01 L486.10,130.36 L486.70,130.72 L487.30,131.07 L487.90,131.43 L488.50,131.78 L489.10,132.04 L489.70,131.73 L490.30,131.40 L490.90,131.07 L491.50,130.73 L492.10,130.39 L492.70,130.05 L493.30,129.82 L493.90,129.60 L494.50,129.38 L495.10,129.15 L495.70,128.90 L496.30,128.64 L496.90,128.38 L497.50,128.12 L498.10,127.86 L498.70,127.88 L499.30,128.29 L499.90,128.71 L500.50,129.13 L501.10,129.55 L501.70,129.91 L502.30,129.81 L502.90,129.71 L503.50,129.61 L504.10,129.51 L504.70,129.40 L505.30,129.18 L505.90,128.72 L506.50,128.26 L507.10,127.79 L507.70,127.33 L508.30,126.87 L508.90,126.78 L509.50,126.95 L510.10,127.11 L510.70,127.24 L511.30,127.34 L511.90,127.28 L512.50,127.22 L513.10,127.15 L513.70,127.09 L514.30,127.03 L514.90,126.96 L515.50,126.46 L516.10,125.89 L516.70,125.32 L517.30,124.74 L517.90,124.17 L518.50,124.26 L519.10,124.41 L519.70,124.56 L520.30,124.70 L520.90,124.85 L521.50,125.07 L522.10,125.36 L522.70,125.69 L523.30,126.07 L523.90,126.51 L524.50,126.27 L525.10,125.84 L525.70,125.42 L526.30,124.99 L526.90,124.57 L527.50,124.15 L528.10,123.95 L528.70,124.86 L529.30,125.77 L529.90,126.63 L530.50,127.06 L531.10,127.51 L531.70,127.96 L532.30,128.42 L532.90,128.89 L533.50,128.83 L534.10,128.51 L534.70,128.20 L535.30,127.93 L535.90,127.68 L536.50,127.45 L537.10,127.77 L537.70,128.10 L538.30,128.43 L538.90,128.76 L539.50,129.08 L540.10,129.40 L540.70,129.80 L541.30,130.22 L541.90,130.63 L542.50,131.04 L543.10,131.44 L543.70,131.85 L544.30,132.17 L544.90,132.46 L545.50,132.73 L546.10,132.98 L546.70,133.21 L547.30,133.37 L547.90,133.50 L548.50,133.63 L549.10,133.73 L549.70,133.80 L550.30,133.77 L550.90,133.30 L551.50,132.80 L552.10,132.28 L552.70,131.76 L553.30,131.50 L553.90,131.62 L554.50,131.73 L555.10,131.83 L555.70,131.92 L556.30,131.99 L556.90,132.02 L557.50,131.97 L558.10,131.86 L558.70,131.70 L559.30,131.42 L559.90,130.97 L560.50,130.52 L561.10,130.09 L561.70,129.68 L562.30,129.31 L562.90,128.99 L563.50,128.87 L564.10,128.99 L564.70,129.11 L565.30,129.23 L565.90,129.35 L566.50,129.19 L567.10,128.65 L567.70,128.07 L568.30,127.45 L568.90,126.79 L569.50,126.11 L570.10,125.70 L570.70,125.29 L571.30,124.91 L571.90,124.85 L572.50,125.03 L573.10,125.26 L573.70,125.52 L574.30,125.80 L574.90,126.07 L575.50,125.56 L576.10,125.02 L576.70,124.47 L577.30,123.93 L577.90,123.38 L578.50,122.85 L579.10,122.53 L579.70,122.25 L580.30,122.04 L580.90,121.88 L581.50,121.76 L582.10,121.77 L582.70,122.13 L583.30,122.50 L583.90,122.88 L584.50,123.26 L585.10,123.37 L585.70,123.52 L586.30,123.69 L586.90,123.88 L587.50,124.07 L588.10,124.26 L588.70,124.49 L589.30,124.92 L589.90,125.35 L590.50,125.78 L591.10,126.20 L591.70,126.60 L592.30,126.78 L592.90,126.85 L593.50,126.90 L594.10,126.91 L594.70,126.88 L595.30,126.84 L595.90,126.81 L596.50,126.77 L597.10,126.76 L597.70,126.89 L598.30,127.01 L598.90,127.13 L599.50,127.25 L600.10,127.36 L600.70,127.46 L601.30,127.54 L601.90,127.62 L602.50,127.70 L603.10,127.77 L603.70,127.85 L604.30,127.93 L604.90,128.48 L605.50,129.16 L606.10,129.83 L606.70,130.49 L607.30,130.72 L607.90,130.94 L608.50,131.17 L609.10,131.38 L609.70,131.58 L610.30,131.75 L610.90,131.36 L611.50,130.85 L612.10,130.33 L612.70,129.80 L613.30,129.42 L613.90,129.52 L614.50,129.61 L615.10,129.70 L615.70,129.79 L616.30,129.89 L616.90,129.98 L617.50,130.07 L618.10,130.02 L618.70,129.97 L619.30,129.92 L619.90,129.88 L620.50,129.84 L621.10,129.68 L621.70,129.53 L622.30,129.38 L622.90,129.23 L623.50,129.08 L624.10,128.97 L624.70,128.99 L625.30,129.02 L625.90,129.04 L626.50,129.06 L627.10,129.09 L627.70,129.12 L628.30,129.16 L628.90,129.19 L629.50,129.22 L630.10,129.25 L630.70,129.05 L631.30,128.73 L631.90,128.41 L632.50,128.09 L633.10,127.78 L633.70,127.95 L634.30,128.25 L634.90,128.54 L635.50,128.84 L636.10,129.13 L636.70,129.41 L637.30,129.68 L637.90,129.95 L638.50,130.23 L639.10,130.50 L639.70,130.74 L640.30,130.88 L640.90,131.02 L641.50,131.16 L642.10,131.29 L642.70,131.07 L643.30,130.84 L643.90,130.61 L644.50,130.39 L645.10,130.16 L645.70,130.04 L646.30,130.01 L646.90,129.99 L647.50,129.96 L648.10,129.93 L648.70,129.98 L649.30,130.16 L649.90,130.34 L650.50,130.51 L651.10,130.69 L651.70,130.86 L652.30,131.04 L652.90,131.27 L653.50,131.63 L654.10,131.99 L654.70,132.34 L655.30,132.70 L655.90,132.39 L656.50,131.66 L657.10,130.93 L657.70,130.20 L658.30,129.47 L658.90,129.50 L659.50,129.55 L660.10,129.60 L660.70,129.65 L661.30,129.71 L661.90,129.77 L662.50,129.84 L663.10,129.90 L663.70,129.96 L664.30,130.02 L664.90,130.09 L665.50,130.16 L666.10,130.40 L666.70,130.64 L667.30,130.88 L667.90,131.12 L668.50,131.30 L669.10,130.97 L669.70,130.64 L670.30,130.31 L670.90,129.98 L671.50,129.86 L672.10,130.11 L672.70,130.37 L673.30,130.62" stroke="#008080" stroke-width="2.7" fill="none" stroke-linejoin="round"/>
<path d="M434.50,179.36 L435.10,179.09 L435.70,178.83 L436.30,178.56 L436.90,178.29 L437.50,178.03 L438.10,177.76 L438.70,177.62 L439.30,177.65 L439.90,177.67 L440.50,177.66 L441.10,177.60 L441.70,177.54 L442.30,177.48 L442.90,177.41 L443.50,177.35 L444.10,176.94 L444.70,176.49 L445.30,176.03 L445.90,175.58 L446.50,175.12 L447.10,175.44 L447.70,175.87 L448.30,176.31 L448.90,176.74 L449.50,177.17 L450.10,177.38 L450.70,177.11 L451.30,176.83 L451.90,176.55 L452.50,176.28 L453.10,176.00 L453.70,175.73 L454.30,175.58 L454.90,176.04 L455.50,176.52 L456.10,177.03 L456.70,177.54 L457.30,177.63 L457.90,177.54 L458.50,177.44 L459.10,177.34 L459.70,177.22 L460.30,177.32 L460.90,177.51 L461.50,177.60 L462.10,177.60 L462.70,177.54 L463.30,177.45 L463.90,177.38 L464.50,176.84 L465.10,176.12 L465.70,175.47 L466.30,175.16 L466.90,175.10 L467.50,175.06 L468.10,175.02 L468.70,174.97 L469.30,174.93 L469.90,174.77 L470.50,174.40 L471.10,174.03 L471.70,173.66 L472.30,173.34 L472.90,173.60 L473.50,173.86 L474.10,174.12 L474.70,174.36 L475.30,174.60 L475.90,174.68 L476.50,174.40 L477.10,174.12 L477.70,173.84 L478.30,173.55 L478.90,173.27 L479.50,172.98 L480.10,173.02 L480.70,173.11 L481.30,173.21 L481.90,173.31 L482.50,173.28 L483.10,173.21 L483.70,173.16 L484.30,173.11 L484.90,173.09 L485.50,173.13 L486.10,173.24 L486.70,173.43 L487.30,173.69 L487.90,174.00 L488.50,174.32 L489.10,174.56 L489.70,174.52 L490.30,174.40 L490.90,174.19 L491.50,173.91 L492.10,173.59 L492.70,173.27 L493.30,172.94 L493.90,172.60 L494.50,172.27 L495.10,171.94 L495.70,171.61 L496.30,171.72 L496.90,171.83 L497.50,171.94 L498.10,172.05 L498.70,172.16 L499.30,172.51 L499.90,172.91 L500.50,173.34 L501.10,173.79 L501.70,174.26 L502.30,174.65 L502.90,174.78 L503.50,174.92 L504.10,175.05 L504.70,175.18 L505.30,175.31 L505.90,175.44 L506.50,175.58 L507.10,175.71 L507.70,175.64 L508.30,175.35 L508.90,175.05 L509.50,174.71 L510.10,174.31 L510.70,173.85 L511.30,173.43 L511.90,173.13 L512.50,172.82 L513.10,172.50 L513.70,172.16 L514.30,172.73 L514.90,172.47 L515.50,172.13 L516.10,171.73 L516.70,171.28 L517.30,170.83 L517.90,170.40 L518.50,169.97 L519.10,169.53 L519.70,169.11 L520.30,168.71 L520.90,168.31 L521.50,167.96 L522.10,167.72 L522.70,167.59 L523.30,167.56 L523.90,167.58 L524.50,167.66 L525.10,167.74 L525.70,167.84 L526.30,167.97 L526.90,168.15 L527.50,168.35 L528.10,168.58 L528.70,168.85 L529.30,169.13 L529.90,169.42 L530.50,169.73 L531.10,170.19 L531.70,170.70 L532.30,171.29 L532.90,171.96 L533.50,172.68 L534.10,173.44 L534.70,174.22 L535.30,175.03 L535.90,175.82 L536.50,176.58 L537.10,177.28 L537.70,177.82 L538.30,178.23 L538.90,178.61 L539.50,178.99 L540.10,179.36 L540.70,179.73 L541.30,180.20 L541.90,180.72 L542.50,181.25 L543.10,181.78 L543.70,182.30 L544.30,182.82 L544.90,183.35 L545.50,183.86 L546.10,184.37 L546.70,184.85 L547.30,185.29 L547.90,185.70 L548.50,186.09 L549.10,186.47 L549.70,186.84 L550.30,187.21 L550.90,187.49 L551.50,187.69 L552.10,187.79 L552.70,187.78 L553.30,187.70 L553.90,187.71 L554.50,187.72 L555.10,187.72 L555.70,187.69 L556.30,187.62 L556.90,187.40 L557.50,187.06 L558.10,186.63 L558.70,186.13 L559.30,185.62 L559.90,185.10 L560.50,184.58 L561.10,184.04 L561.70,183.47 L562.30,182.84 L562.90,182.15 L563.50,181.43 L564.10,180.69 L564.70,179.94 L565.30,179.21 L565.90,178.48 L566.50,177.76 L567.10,177.03 L567.70,176.31 L568.30,175.59 L568.90,174.81 L569.50,174.03 L570.10,173.24 L570.70,172.47 L571.30,171.72 L571.90,171.00 L572.50,170.33 L573.10,169.88 L573.70,169.47 L574.30,169.07 L574.90,168.68 L575.50,168.28 L576.10,167.69 L576.70,166.99 L577.30,166.30 L577.90,165.71 L578.50,165.44 L579.10,165.34 L579.70,165.44 L580.30,165.68 L580.90,166.02 L581.50,166.31 L582.10,166.60 L582.70,166.89 L583.30,167.18 L583.90,167.47 L584.50,167.77 L585.10,168.07 L585.70,168.32 L586.30,168.55 L586.90,168.78 L587.50,169.01 L588.10,169.24 L588.70,169.46 L589.30,169.67 L589.90,169.86 L590.50,170.04 L591.10,170.19 L591.70,170.35 L592.30,170.52 L592.90,170.69 L593.50,170.86 L594.10,171.03 L594.70,171.19 L595.30,171.38 L595.90,171.63 L596.50,170.39 L597.10,170.79 L597.70,171.21 L598.30,171.62 L598.90,172.03 L599.50,172.41 L600.10,172.77 L600.70,173.08 L601.30,173.32 L601.90,173.49 L602.50,173.65 L603.10,173.82 L603.70,173.90 L604.30,173.79 L604.90,173.69 L605.50,173.59 L606.10,173.49 L606.70,173.39 L607.30,173.29 L607.90,173.18 L608.50,173.25 L609.10,173.35 L609.70,173.47 L610.30,173.59 L610.90,173.71 L611.50,174.41 L612.10,175.15 L612.70,175.89 L613.30,176.63 L613.90,177.37 L614.50,177.56 L615.10,176.92 L615.70,176.28 L616.30,175.64 L616.90,175.17 L617.50,174.89 L618.10,174.61 L618.70,174.33 L619.30,174.05 L619.90,174.23 L620.50,174.69 L621.10,175.14 L621.70,175.59 L622.30,176.04 L622.90,176.10 L623.50,175.80 L624.10,175.49 L624.70,175.18 L625.30,174.87 L625.90,174.60 L626.50,174.38 L627.10,174.16 L627.70,173.94 L628.30,173.73 L628.90,173.51 L629.50,173.29 L630.10,173.72 L630.70,174.24 L631.30,174.76 L631.90,175.28 L632.50,175.79 L633.10,176.30 L633.70,176.21 L634.30,176.01 L634.90,175.81 L635.50,175.61 L636.10,175.42 L636.70,175.60 L637.30,175.78 L637.90,175.96 L638.50,176.13 L639.10,176.31 L639.70,176.49 L640.30,176.85 L640.90,177.23 L641.50,177.62 L642.10,178.00 L642.70,178.39 L643.30,178.52 L643.90,178.14 L644.50,177.75 L645.10,177.36 L645.70,176.97 L646.30,176.66 L646.90,176.41 L647.50,176.16 L648.10,175.90 L648.70,176.05 L649.30,176.48 L649.90,176.91 L650.50,177.34 L651.10,177.76 L651.70,178.19 L652.30,178.61 L652.90,178.32 L653.50,177.47 L654.10,176.61 L654.70,175.75 L655.30,174.89 L655.90,174.72 L656.50,174.97 L657.10,175.23 L657.70,175.49 L658.30,175.75 L658.90,176.28 L659.50,176.81 L660.10,177.34 L660.70,177.86 L661.30,178.39 L661.90,178.81 L662.50,178.85 L663.10,178.90 L663.70,178.94 L664.30,178.99 L664.90,179.03 L665.50,178.76 L666.10,178.46 L666.70,178.15 L667.30,177.84 L667.90,177.53 L668.50,177.23 L669.10,177.01 L669.70,176.89 L670.30,176.77 L670.90,176.65 L671.50,176.75 L672.10,176.94 L672.70,177.12 L673.30,177.31" stroke="#0000ff" stroke-width="2.7" fill="none" stroke-linejoin="round"/>
<path d="M434.50,226.04 L435.10,226.18 L435.70,226.32 L436.30,226.46 L436.90,226.59 L437.50,226.73 L438.10,226.73 L438.70,226.64 L439.30,226.54 L439.90,226.44 L440.50,226.34 L441.10,226.24 L441.70,226.16 L442.30,226.09 L442.90,226.02 L443.50,225.95 L444.10,225.88 L444.70,225.86 L445.30,226.02 L445.90,226.18 L446.50,226.33 L447.10,226.49 L447.70,226.65 L448.30,226.21 L448.90,225.69 L449.50,225.16 L450.10,224.62 L450.70,224.36 L451.30,224.46 L451.90,224.56 L452.50,224.66 L453.10,224.75 L453.70,224.81 L454.30,224.75 L454.90,224.70 L455.50,224.65 L456.10,224.60 L456.70,224.54 L457.30,224.52 L457.90,224.64 L458.50,224.76 L459.10,224.87 L459.70,224.99 L460.30,225.09 L460.90,224.96 L461.50,224.83 L462.10,224.69 L462.70,224.56 L463.30,224.50 L463.90,224.46 L464.50,224.42 L465.10,224.38 L465.70,224.34 L466.30,224.30 L466.90,224.32 L467.50,224.38 L468.10,224.44 L468.70,224.50 L469.30,224.53 L469.90,224.50 L470.50,224.47 L471.10,224.44 L471.70,224.41 L472.30,224.37 L472.90,224.32 L473.50,224.15 L474.10,223.98 L474.70,223.82 L475.30,223.65 L475.90,223.40 L476.50,223.11 L477.10,222.81 L477.70,222.52 L478.30,222.22 L478.90,221.93 L479.50,222.06 L480.10,222.20 L480.70,222.34 L481.30,222.46 L481.90,222.59 L482.50,222.50 L483.10,222.19 L483.70,221.89 L484.30,221.58 L484.90,221.28 L485.50,221.36 L486.10,221.58 L486.70,221.80 L487.30,222.02 L487.90,222.24 L488.50,222.45 L489.10,222.30 L489.70,222.01 L490.30,221.72 L490.90,221.43 L491.50,221.13 L492.10,220.83 L492.70,220.52 L493.30,220.13 L493.90,219.74 L494.50,219.34 L495.10,219.18 L495.70,219.02 L496.30,218.86 L496.90,218.70 L497.50,218.54 L498.10,218.38 L498.70,218.22 L499.30,217.97 L499.90,217.66 L500.50,217.36 L501.10,217.08 L501.70,216.80 L502.30,216.52 L502.90,216.62 L503.50,216.76 L504.10,216.88 L504.70,216.97 L505.30,217.01 L505.90,216.65 L506.50,216.05 L507.10,215.43 L507.70,214.81 L508.30,214.32 L508.90,214.46 L509.50,214.62 L510.10,214.77 L510.70,214.69 L511.30,213.86 L511.90,212.85 L512.50,211.67 L513.10,210.43 L513.70,209.30 L514.30,210.04 L514.90,209.58 L515.50,209.02 L516.10,208.24 L516.70,207.22 L517.30,205.92 L517.90,204.48 L518.50,202.97 L519.10,201.62 L519.70,200.62 L520.30,200.04 L520.90,199.81 L521.50,199.79 L522.10,199.76 L522.70,199.77 L523.30,199.80 L523.90,199.87 L524.50,200.01 L525.10,200.29 L525.70,200.73 L526.30,201.36 L526.90,202.18 L527.50,203.18 L528.10,204.30 L528.70,205.38 L529.30,206.57 L529.90,207.83 L530.50,209.22 L531.10,210.83 L531.70,212.46 L532.30,214.12 L532.90,215.79 L533.50,217.48 L534.10,219.20 L534.70,220.94 L535.30,222.76 L535.90,224.70 L536.50,226.80 L537.10,229.03 L537.70,231.29 L538.30,233.52 L538.90,235.65 L539.50,237.68 L540.10,239.61 L540.70,241.48 L541.30,243.23 L541.90,244.74 L542.50,246.03 L543.10,247.14 L543.70,248.15 L544.30,248.98 L544.90,249.75 L545.50,250.44 L546.10,251.08 L546.70,251.66 L547.30,252.23 L547.90,252.79 L548.50,253.30 L549.10,253.75 L549.70,254.13 L550.30,254.44 L550.90,254.60 L551.50,254.70 L552.10,254.75 L552.70,254.74 L553.30,254.70 L553.90,254.60 L554.50,254.47 L555.10,254.27 L555.70,254.01 L556.30,253.80 L556.90,253.59 L557.50,253.28 L558.10,252.82 L558.70,252.15 L559.30,251.18 L559.90,250.09 L560.50,248.92 L561.10,247.68 L561.70,246.38 L562.30,245.00 L562.90,243.54 L563.50,241.99 L564.10,240.41 L564.70,238.80 L565.30,237.15 L565.90,235.62 L566.50,234.00 L567.10,232.26 L567.70,230.44 L568.30,228.58 L568.90,226.69 L569.50,224.61 L570.10,222.54 L570.70,220.49 L571.30,218.48 L571.90,216.54 L572.50,214.73 L573.10,213.09 L573.70,211.51 L574.30,209.95 L574.90,208.40 L575.50,206.83 L576.10,205.26 L576.70,203.77 L577.30,202.30 L577.90,200.83 L578.50,199.33 L579.10,197.74 L579.70,196.32 L580.30,195.13 L580.90,194.22 L581.50,193.66 L582.10,193.49 L582.70,193.64 L583.30,194.10 L583.90,194.78 L584.50,195.61 L585.10,196.58 L585.70,197.65 L586.30,198.78 L586.90,199.97 L587.50,201.17 L588.10,202.38 L588.70,203.58 L589.30,204.89 L589.90,206.19 L590.50,207.47 L591.10,208.72 L591.70,209.90 L592.30,211.01 L592.90,212.11 L593.50,213.20 L594.10,214.21 L594.70,215.03 L595.30,215.70 L595.90,216.23 L596.50,217.10 L597.10,217.31 L597.70,218.10 L598.30,218.88 L598.90,219.64 L599.50,220.35 L600.10,220.97 L600.70,221.11 L601.30,220.61 L601.90,220.08 L602.50,219.53 L603.10,218.97 L603.70,218.41 L604.30,218.24 L604.90,218.52 L605.50,218.81 L606.10,219.09 L606.70,219.38 L607.30,219.66 L607.90,219.95 L608.50,220.33 L609.10,220.70 L609.70,221.08 L610.30,221.45 L610.90,221.83 L611.50,221.80 L612.10,221.33 L612.70,220.86 L613.30,220.54 L613.90,220.72 L614.50,220.90 L615.10,221.08 L615.70,221.26 L616.30,221.44 L616.90,221.62 L617.50,221.67 L618.10,221.72 L618.70,221.77 L619.30,221.83 L619.90,221.91 L620.50,222.09 L621.10,222.32 L621.70,222.56 L622.30,222.80 L622.90,223.05 L623.50,223.30 L624.10,223.51 L624.70,223.55 L625.30,223.59 L625.90,223.62 L626.50,223.60 L627.10,223.47 L627.70,223.34 L628.30,223.20 L628.90,223.06 L629.50,222.89 L630.10,222.70 L630.70,222.83 L631.30,223.10 L631.90,223.36 L632.50,223.60 L633.10,223.85 L633.70,224.01 L634.30,223.94 L634.90,223.87 L635.50,223.80 L636.10,223.73 L636.70,223.86 L637.30,224.29 L637.90,224.71 L638.50,225.14 L639.10,224.99 L639.70,224.64 L640.30,224.31 L640.90,223.98 L641.50,223.66 L642.10,223.35 L642.70,223.03 L643.30,223.04 L643.90,223.32 L644.50,223.60 L645.10,223.88 L645.70,224.16 L646.30,224.64 L646.90,225.13 L647.50,225.63 L648.10,226.13 L648.70,226.63 L649.30,226.71 L649.90,226.56 L650.50,226.41 L651.10,226.26 L651.70,226.14 L652.30,226.58 L652.90,227.03 L653.50,227.48 L654.10,227.92 L654.70,228.37 L655.30,228.82 L655.90,228.48 L656.50,228.03 L657.10,227.58 L657.70,227.13 L658.30,226.69 L658.90,226.22 L659.50,225.69 L660.10,225.16 L660.70,224.62 L661.30,224.08 L661.90,223.54 L662.50,224.32 L663.10,225.15 L663.70,225.98 L664.30,226.82 L664.90,227.65 L665.50,227.95 L666.10,227.84 L666.70,227.73 L667.30,227.62 L667.90,227.52 L668.50,227.41 L669.10,227.31 L669.70,227.23 L670.30,227.15 L670.90,227.07 L671.50,226.98 L672.10,226.82 L672.70,226.56 L673.30,226.31" stroke="#ff0000" stroke-width="2.7" fill="none" stroke-linejoin="round"/>
<path d="M434.50,274.66 L435.10,274.93 L435.70,275.42 L436.30,275.90 L436.90,276.39 L437.50,276.84 L438.10,276.68 L438.70,276.52 L439.30,276.35 L439.90,276.19 L440.50,276.03 L441.10,276.02 L441.70,276.26 L442.30,276.50 L442.90,276.74 L443.50,276.98 L444.10,277.21 L444.70,277.07 L445.30,276.87 L445.90,276.64 L446.50,276.38 L447.10,276.12 L447.70,276.02 L448.30,276.00 L448.90,275.98 L449.50,275.95 L450.10,275.93 L450.70,275.94 L451.30,276.01 L451.90,276.08 L452.50,276.16 L453.10,276.23 L453.70,276.31 L454.30,276.36 L454.90,276.36 L455.50,276.39 L456.10,276.43 L456.70,276.49 L457.30,276.55 L457.90,276.54 L458.50,276.40 L459.10,276.27 L459.70,276.14 L460.30,275.94 L460.90,275.62 L461.50,275.26 L462.10,274.80 L462.70,274.24 L463.30,273.79 L463.90,273.82 L464.50,273.84 L465.10,273.85 L465.70,273.87 L466.30,273.87 L466.90,273.66 L467.50,273.45 L468.10,273.24 L468.70,273.05 L469.30,272.90 L469.90,272.83 L470.50,272.71 L471.10,272.72 L471.70,272.79 L472.30,272.88 L472.90,273.12 L473.50,273.27 L474.10,273.24 L474.70,273.00 L475.30,272.61 L475.90,272.16 L476.50,271.68 L477.10,271.17 L477.70,270.75 L478.30,270.50 L478.90,270.41 L479.50,270.33 L480.10,270.16 L480.70,270.01 L481.30,269.85 L481.90,269.70 L482.50,269.54 L483.10,269.88 L483.70,270.33 L484.30,270.74 L484.90,271.07 L485.50,271.26 L486.10,270.84 L486.70,270.29 L487.30,269.72 L487.90,269.16 L488.50,268.59 L489.10,268.12 L489.70,267.88 L490.30,267.76 L490.90,267.76 L491.50,267.83 L492.10,267.90 L492.70,267.99 L493.30,267.94 L493.90,267.72 L494.50,267.42 L495.10,267.12 L495.70,266.93 L496.30,266.60 L496.90,266.43 L497.50,266.36 L498.10,266.35 L498.70,266.50 L499.30,266.90 L499.90,267.30 L500.50,267.70 L501.10,268.07 L501.70,268.10 L502.30,268.18 L502.90,268.34 L503.50,268.62 L504.10,269.02 L504.70,269.72 L505.30,270.46 L505.90,271.27 L506.50,272.16 L507.10,273.11 L507.70,274.11 L508.30,275.11 L508.90,276.10 L509.50,277.18 L510.10,278.32 L510.70,279.40 L511.30,280.28 L511.90,280.78 L512.50,281.21 L513.10,280.85 L513.70,279.97 L514.30,278.52 L514.90,276.56 L515.50,274.07 L516.10,270.90 L516.70,266.98 L517.30,262.24 L517.90,256.78 L518.50,250.91 L519.10,244.87 L519.70,238.83 L520.30,232.98 L520.90,227.57 L521.50,222.73 L522.10,218.43 L522.70,214.60 L523.30,211.47 L523.90,209.32 L524.50,208.26 L525.10,208.37 L525.70,209.52 L526.30,211.60 L526.90,214.43 L527.50,217.72 L528.10,221.21 L528.70,224.77 L529.30,228.35 L529.90,231.96 L530.50,235.58 L531.10,239.19 L531.70,242.81 L532.30,246.44 L532.90,250.15 L533.50,253.94 L534.10,257.82 L534.70,261.75 L535.30,265.72 L535.90,269.75 L536.50,273.80 L537.10,277.80 L537.70,281.68 L538.30,285.40 L538.90,288.96 L539.50,292.43 L540.10,295.78 L540.70,298.94 L541.30,301.80 L541.90,304.26 L542.50,306.36 L543.10,308.22 L543.70,309.98 L544.30,311.62 L544.90,313.11 L545.50,314.44 L546.10,315.64 L546.70,316.74 L547.30,317.73 L547.90,318.64 L548.50,319.51 L549.10,320.34 L549.70,321.12 L550.30,321.83 L550.90,322.46 L551.50,323.02 L552.10,323.46 L552.70,323.80 L553.30,324.02 L553.90,324.15 L554.50,324.14 L555.10,324.00 L555.70,323.76 L556.30,323.40 L556.90,322.93 L557.50,322.36 L558.10,321.69 L558.70,320.92 L559.30,320.06 L559.90,319.13 L560.50,318.15 L561.10,317.09 L561.70,315.91 L562.30,314.61 L562.90,313.15 L563.50,311.50 L564.10,309.67 L564.70,307.71 L565.30,305.61 L565.90,303.29 L566.50,300.71 L567.10,297.89 L567.70,294.97 L568.30,291.99 L568.90,288.99 L569.50,285.93 L570.10,282.76 L570.70,279.42 L571.30,275.91 L571.90,272.29 L572.50,268.55 L573.10,264.64 L573.70,260.56 L574.30,256.36 L574.90,252.09 L575.50,247.78 L576.10,243.44 L576.70,239.09 L577.30,234.75 L577.90,230.49 L578.50,226.37 L579.10,222.48 L579.70,218.83 L580.30,215.51 L580.90,212.77 L581.50,210.83 L582.10,209.91 L582.70,210.05 L583.30,211.32 L583.90,213.71 L584.50,217.15 L585.10,221.50 L585.70,226.59 L586.30,232.52 L586.90,239.15 L587.50,246.06 L588.10,252.82 L588.70,259.22 L589.30,265.04 L589.90,270.09 L590.50,274.22 L591.10,277.27 L591.70,279.35 L592.30,280.68 L592.90,281.54 L593.50,282.03 L594.10,282.26 L594.70,282.33 L595.30,282.28 L595.90,281.99 L596.50,281.38 L597.10,280.44 L597.70,279.24 L598.30,277.79 L598.90,276.16 L599.50,274.45 L600.10,272.84 L600.70,271.37 L601.30,270.09 L601.90,269.06 L602.50,268.31 L603.10,267.80 L603.70,267.45 L604.30,267.26 L604.90,267.16 L605.50,267.09 L606.10,267.08 L606.70,267.01 L607.30,266.81 L607.90,266.40 L608.50,265.87 L609.10,265.29 L609.70,264.72 L610.30,264.29 L610.90,264.15 L611.50,264.82 L612.10,265.80 L612.70,266.86 L613.30,267.89 L613.90,268.80 L614.50,269.54 L615.10,270.16 L615.70,270.72 L616.30,271.27 L616.90,271.17 L617.50,271.07 L618.10,270.98 L618.70,270.88 L619.30,270.79 L619.90,270.80 L620.50,270.96 L621.10,271.11 L621.70,271.23 L622.30,271.34 L622.90,271.42 L623.50,271.44 L624.10,271.46 L624.70,271.48 L625.30,271.50 L625.90,271.52 L626.50,271.53 L627.10,271.55 L627.70,271.69 L628.30,271.81 L628.90,271.92 L629.50,271.94 L630.10,271.86 L630.70,271.77 L631.30,271.69 L631.90,271.61 L632.50,271.52 L633.10,271.84 L633.70,272.24 L634.30,272.65 L634.90,273.06 L635.50,273.46 L636.10,273.46 L636.70,273.42 L637.30,273.32 L637.90,273.11 L638.50,272.76 L639.10,272.37 L639.70,272.29 L640.30,272.46 L640.90,272.98 L641.50,273.78 L642.10,274.69 L642.70,275.33 L643.30,275.35 L643.90,275.17 L644.50,274.87 L645.10,274.53 L645.70,274.31 L646.30,274.73 L646.90,275.15 L647.50,275.57 L648.10,275.99 L648.70,276.15 L649.30,275.94 L649.90,275.74 L650.50,275.58 L651.10,275.46 L651.70,275.38 L652.30,275.43 L652.90,275.55 L653.50,275.67 L654.10,275.79 L654.70,275.91 L655.30,276.09 L655.90,276.26 L656.50,276.38 L657.10,276.42 L657.70,276.38 L658.30,276.30 L658.90,276.21 L659.50,276.07 L660.10,275.94 L660.70,275.81 L661.30,275.67 L661.90,275.53 L662.50,275.27 L663.10,274.76 L663.70,274.22 L664.30,273.66 L664.90,273.82 L665.50,273.97 L666.10,274.13 L666.70,274.29 L667.30,274.47 L667.90,274.64 L668.50,274.57 L669.10,274.54 L669.70,274.54 L670.30,274.54 L670.90,274.55 L671.50,274.56 L672.10,274.62 L672.70,274.72 L673.30,274.81" stroke="#000" stroke-width="2.7" fill="none" stroke-linejoin="round"/>
</g>
<rect x="71.40" y="1.00" width="240.60" height="330.00" fill="none" stroke="#000" stroke-width="2"/>
<path d="M95.10,331.00v-5M95.10,1.00v5M143.30,331.00v-5M143.30,1.00v5M191.50,331.00v-5M191.50,1.00v5M239.70,331.00v-5M239.70,1.00v5M287.90,331.00v-5M287.90,1.00v5M119.20,331.00v-3M119.20,1.00v3M167.40,331.00v-3M167.40,1.00v3M215.60,331.00v-3M215.60,1.00v3M263.80,331.00v-3M263.80,1.00v3M71.40,324.70h5M312.00,324.70h-5M71.40,257.15h5M312.00,257.15h-5M71.40,189.60h5M312.00,189.60h-5M71.40,122.05h5M312.00,122.05h-5M71.40,54.50h5M312.00,54.50h-5M71.40,290.93h3M312.00,290.93h-3M71.40,223.38h3M312.00,223.38h-3M71.40,155.82h3M312.00,155.82h-3M71.40,88.28h3M312.00,88.28h-3M71.40,20.73h3M312.00,20.73h-3" stroke="#000" stroke-width="2" fill="none"/>
<rect x="433.40" y="1.00" width="240.60" height="330.00" fill="none" stroke="#000" stroke-width="2"/>
<path d="M457.00,331.00v-5M457.00,1.00v5M505.20,331.00v-5M505.20,1.00v5M553.40,331.00v-5M553.40,1.00v5M601.60,331.00v-5M601.60,1.00v5M649.80,331.00v-5M649.80,1.00v5M481.10,331.00v-3M481.10,1.00v3M529.30,331.00v-3M529.30,1.00v3M577.50,331.00v-3M577.50,1.00v3M625.70,331.00v-3M625.70,1.00v3M433.40,331.20h5M674.00,331.20h-5M433.40,270.00h5M674.00,270.00h-5M433.40,208.80h5M674.00,208.80h-5M433.40,147.60h5M674.00,147.60h-5M433.40,86.40h5M674.00,86.40h-5M433.40,25.20h5M674.00,25.20h-5M433.40,300.60h3M674.00,300.60h-3M433.40,239.40h3M674.00,239.40h-3M433.40,178.20h3M674.00,178.20h-3M433.40,117.00h3M674.00,117.00h-3M433.40,55.80h3M674.00,55.80h-3" stroke="#000" stroke-width="2" fill="none"/>
<g font-family="'Liberation Sans', sans-serif" stroke-width="0.3">
<text x="95.10" y="355.50" font-size="23.00" text-anchor="middle" fill="#000" stroke="#000" >-0.4</text>
<text x="457.00" y="355.50" font-size="23.00" text-anchor="middle" fill="#000" stroke="#000" >-0.4</text>
<text x="143.30" y="355.50" font-size="23.00" text-anchor="middle" fill="#000" stroke="#000" >-0.2</text>
<text x="505.20" y="355.50" font-size="23.00" text-anchor="middle" fill="#000" stroke="#000" >-0.2</text>
<text x="191.50" y="355.50" font-size="23.00" text-anchor="middle" fill="#000" stroke="#000" >0.0</text>
<text x="553.40" y="355.50" font-size="23.00" text-anchor="middle" fill="#000" stroke="#000" >0.0</text>
<text x="239.70" y="355.50" font-size="23.00" text-anchor="middle" fill="#000" stroke="#000" >0.2</text>
<text x="601.60" y="355.50" font-size="23.00" text-anchor="middle" fill="#000" stroke="#000" >0.2</text>
<text x="287.90" y="355.50" font-size="23.00" text-anchor="middle" fill="#000" stroke="#000" >0.4</text>
<text x="649.80" y="355.50" font-size="23.00" text-anchor="middle" fill="#000" stroke="#000" >0.4</text>
<text x="65.50" y="331.90" font-size="23.00" text-anchor="end" fill="#000" stroke="#000" >0.5</text>
<text x="65.50" y="264.35" font-size="23.00" text-anchor="end" fill="#000" stroke="#000" >1.0</text>
<text x="65.50" y="196.80" font-size="23.00" text-anchor="end" fill="#000" stroke="#000" >1.5</text>
<text x="65.50" y="129.25" font-size="23.00" text-anchor="end" fill="#000" stroke="#000" >2.0</text>
<text x="65.50" y="61.70" font-size="23.00" text-anchor="end" fill="#000" stroke="#000" >2.5</text>
<text x="427.50" y="338.40" font-size="23.00" text-anchor="end" fill="#000" stroke="#000" >-0.2</text>
<text x="427.50" y="277.20" font-size="23.00" text-anchor="end" fill="#000" stroke="#000" >0.0</text>
<text x="427.50" y="216.00" font-size="23.00" text-anchor="end" fill="#000" stroke="#000" >0.2</text>
<text x="427.50" y="154.80" font-size="23.00" text-anchor="end" fill="#000" stroke="#000" >0.4</text>
<text x="427.50" y="93.60" font-size="23.00" text-anchor="end" fill="#000" stroke="#000" >0.6</text>
<text x="427.50" y="32.40" font-size="23.00" text-anchor="end" fill="#000" stroke="#000" >0.8</text>
<text x="193.00" y="390.00" font-size="28.00" text-anchor="middle" fill="#000" stroke="#000" letter-spacing="0.6"><tspan font-style="italic">V</tspan> (mV)</text>
<text x="554.60" y="390.00" font-size="28.00" text-anchor="middle" fill="#000" stroke="#000" letter-spacing="0.6"><tspan font-style="italic">V</tspan> (mV)</text>
<text transform="translate(25.3,170.8) rotate(-90)" font-size="28" text-anchor="middle" fill="#000" stroke="#000">d<tspan font-style="italic">I</tspan>/d<tspan font-style="italic">V</tspan> (a.u.)</text>
<text transform="translate(387,169.3) rotate(-90)" font-size="27.5" text-anchor="middle" fill="#000" stroke="#000">&#916;S (a.u.)</text>
<text x="304.50" y="38.60" font-size="20.00" text-anchor="end" fill="#808000" stroke="#808000" >0.05 T</text>
<text x="307.00" y="83.50" font-size="20.00" text-anchor="end" fill="#ff00ff" stroke="#ff00ff" >0.04 T</text>
<text x="307.00" y="131.80" font-size="20.00" text-anchor="end" fill="#008080" stroke="#008080" >0.03 T</text>
<text x="307.00" y="179.50" font-size="20.00" text-anchor="end" fill="#0000c8" stroke="#0000c8" >0.02 T</text>
<text x="307.00" y="228.00" font-size="20.00" text-anchor="end" fill="#ff0000" stroke="#ff0000" >0.01 T</text>
<text x="296.00" y="275.00" font-size="20.00" text-anchor="end" fill="#000" stroke="#000" >0 T</text>
<text x="309.50" y="323.20" font-size="20.00" text-anchor="end" fill="#000" stroke="#000" ><tspan font-style="italic">T</tspan> = 43 mK</text>
<text x="668.00" y="58.70" font-size="20.00" text-anchor="end" fill="#808000" stroke="#808000" >0.05 T</text>
<text x="671.00" y="107.20" font-size="20.00" text-anchor="end" fill="#ff00ff" stroke="#ff00ff" >0.04 T</text>
<text x="670.00" y="152.70" font-size="20.00" text-anchor="end" fill="#008080" stroke="#008080" >0.03 T</text>
<text x="670.50" y="202.20" font-size="20.00" text-anchor="end" fill="#0000dd" stroke="#0000dd" >0.02 T</text>
<text x="669.50" y="248.40" font-size="20.00" text-anchor="end" fill="#ff0000" stroke="#ff0000" >0.01 T</text>
<text x="659.50" y="296.30" font-size="20.00" text-anchor="end" fill="#000" stroke="#000" >0 T</text>
<text x="80.50" y="319.50" font-size="29.00" text-anchor="start" fill="#000" stroke="#000" font-weight="bold">a</text>
<text x="443.50" y="319.20" font-size="29.00" text-anchor="start" fill="#000" stroke="#000" font-weight="bold">b</text>
</g>
</svg>
</body></html>
